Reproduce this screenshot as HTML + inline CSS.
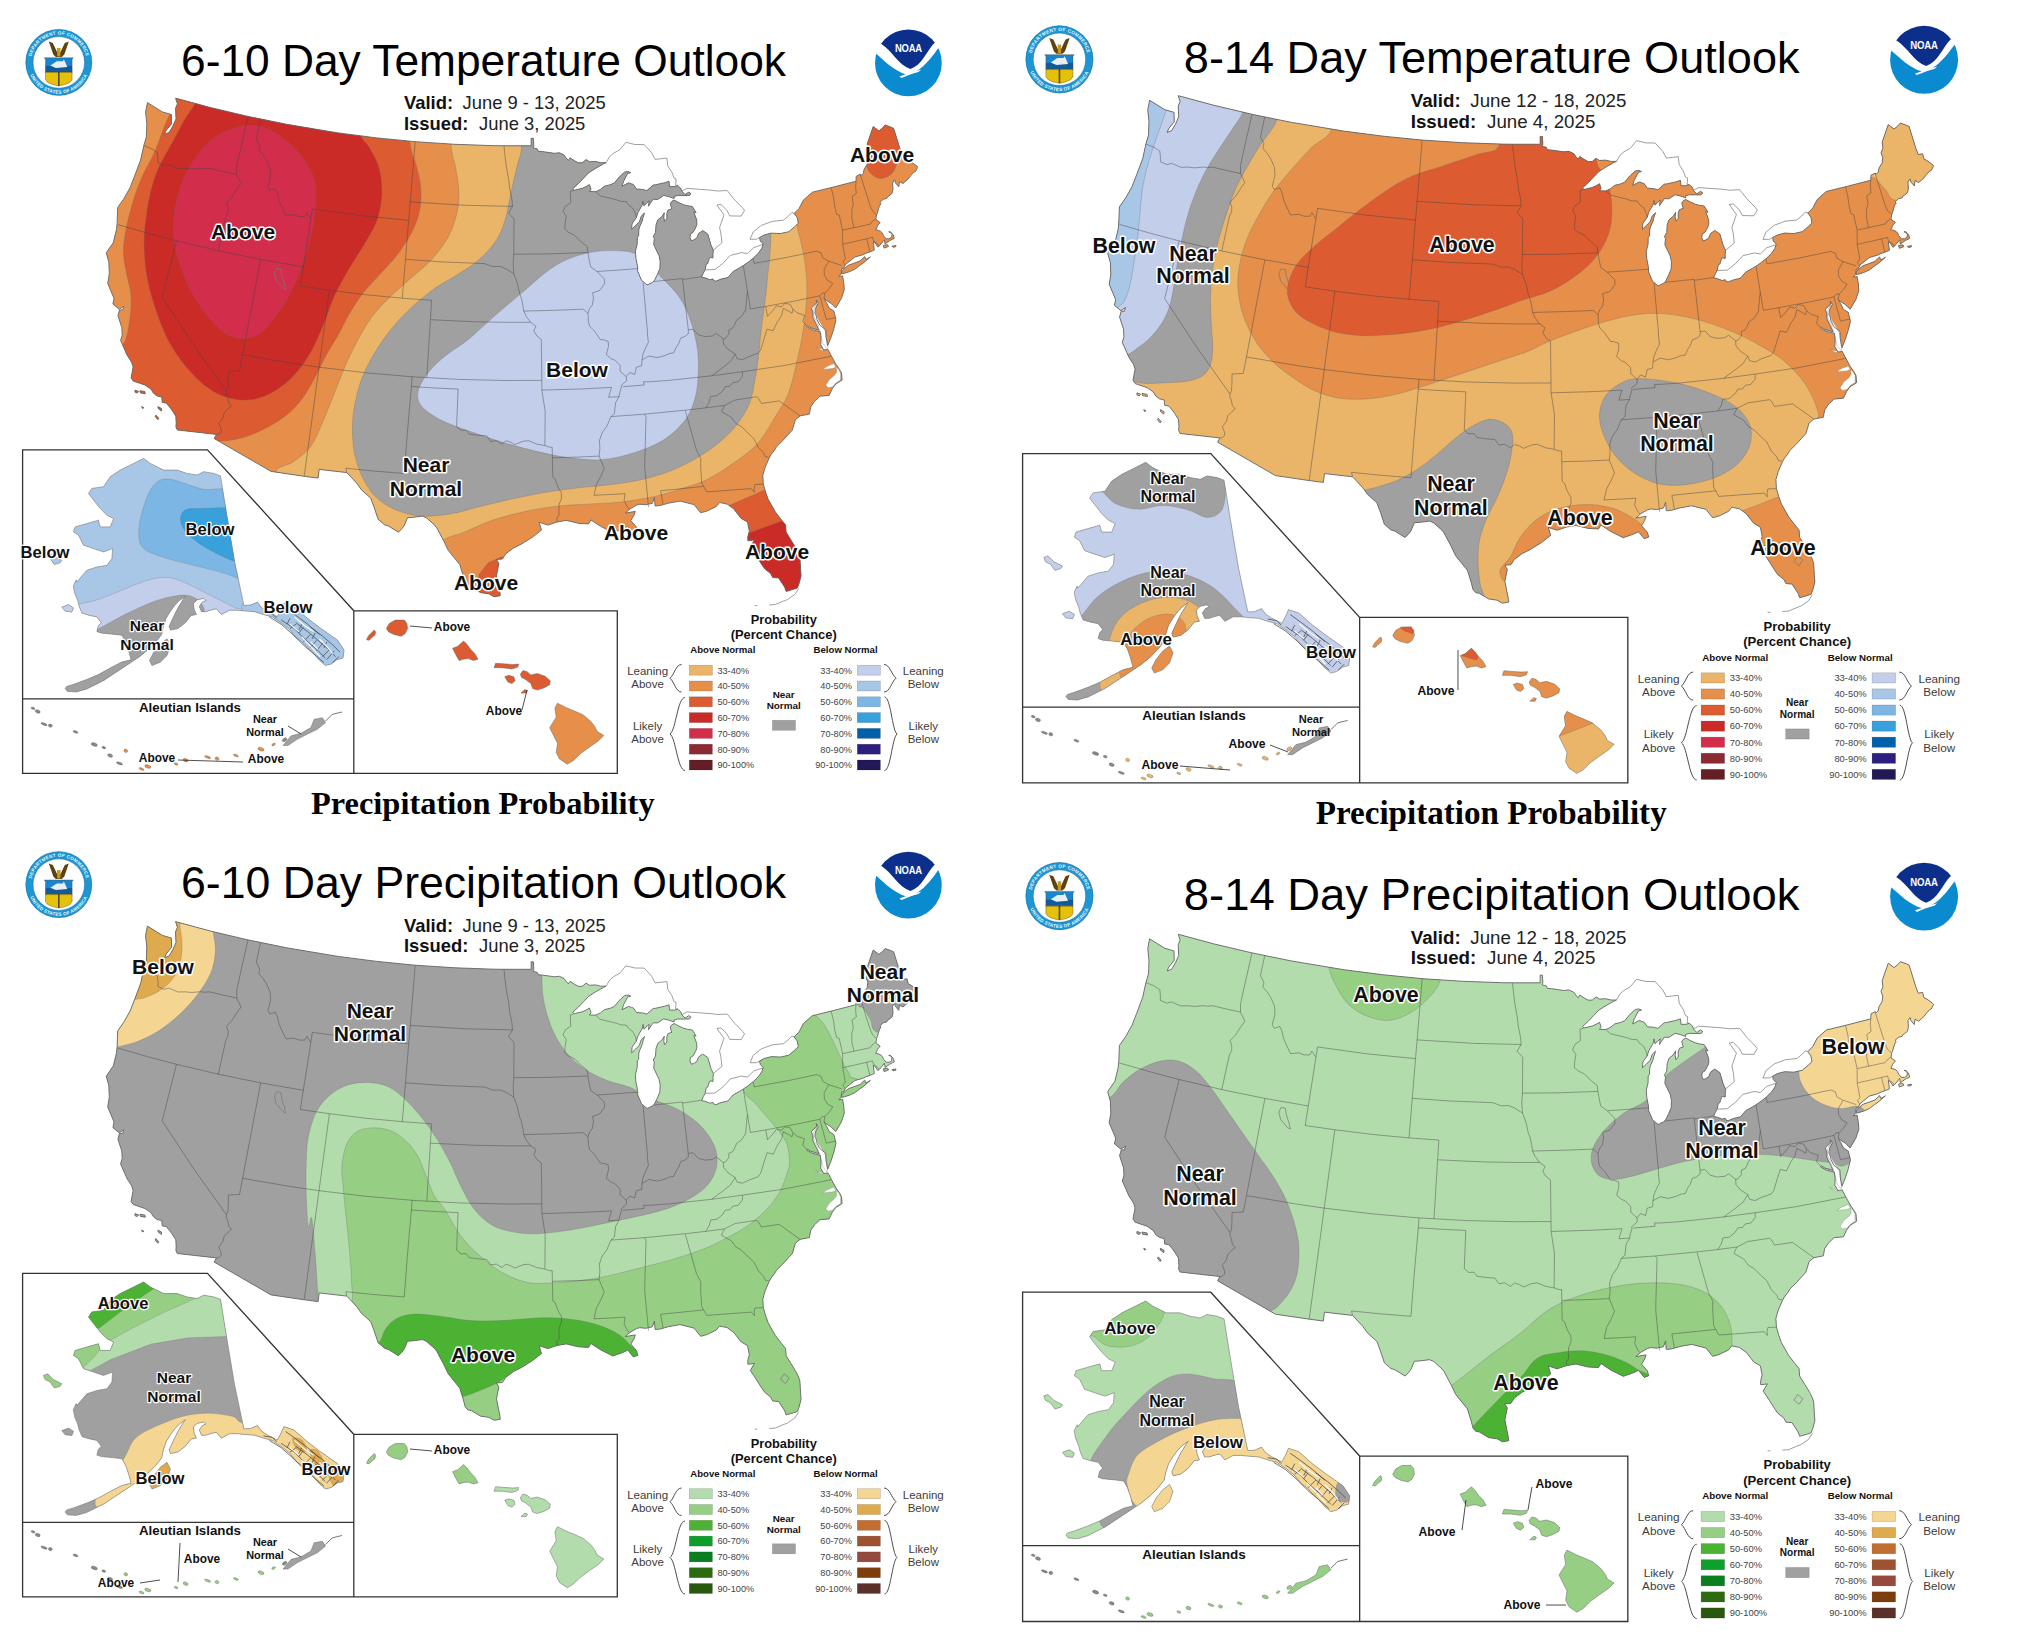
<!DOCTYPE html><html><head><meta charset="utf-8"><title>CPC Outlooks</title><style>html,body{margin:0;padding:0;background:#fff}svg{display:block}text{font-family:'Liberation Sans',Arial,Helvetica,sans-serif}</style></head><body><svg width="2035" height="1634" viewBox="0 0 2035 1634" style="font-family:'Liberation Sans',Arial,Helvetica,sans-serif"><defs><clipPath id="us"><path d="M175.5,98.1L210.3,107.5L248.0,116.4L286.7,124.3L338.1,132.9L376.9,137.9L415.2,141.7L454.9,144.3L494.0,145.7L504.0,145.8L531.2,145.8L531.1,138.3L533.4,138.3L533.8,145.8L533.1,147.8L535.1,148.4L537.1,148.8L538.4,151.3L542.4,151.6L548.9,152.5L554.2,153.3L559.4,152.8L564.1,155.0L566.2,157.9L568.3,160.4L570.1,157.8L574.2,160.6L578.3,162.8L582.3,162.8L586.1,159.6L589.5,161.8L595.4,161.4L600.8,162.7L606.1,162.7L603.8,163.7L595.5,168.4L588.8,172.7L583.6,178.1L578.3,183.7L572.8,188.7L574.2,190.2L582.3,188.3L586.2,186.5L589.4,184.6L590.5,187.3L591.0,189.4L589.4,191.5L595.7,191.7L600.5,189.4L604.4,186.2L610.1,184.8L614.3,183.0L619.2,177.0L624.7,172.0L628.4,171.5L630.7,172.7L627.7,173.4L623.6,181.2L622.0,186.3L628.5,182.8L631.5,183.9L633.3,184.4L636.5,189.0L642.6,189.4L646.8,190.6L653.2,185.0L655.4,184.8L664.4,182.8L669.0,181.3L669.6,186.6L674.4,186.6L677.7,185.6L680.7,188.2L681.8,191.1L685.0,194.6L688.8,192.1L691.1,193.8L689.2,195.5L685.1,195.6L677.8,195.5L674.2,196.4L674.1,198.5L668.7,196.6L663.7,195.4L657.7,199.4L653.2,199.3L650.2,203.5L648.4,206.3L649.2,200.7L643.9,205.7L643.0,200.9L642.5,204.5L637.9,212.6L636.3,217.7L633.2,221.9L632.0,224.0L631.7,229.3L635.6,225.6L639.4,221.7L641.1,216.6L643.2,214.1L644.5,213.0L643.0,217.7L642.2,221.1L639.5,227.2L638.8,230.0L638.6,236.1L637.3,237.2L637.2,244.1L635.4,251.3L635.9,258.2L637.6,267.0L637.7,271.3L641.6,280.4L647.1,285.0L652.3,282.5L654.3,280.8L657.4,274.4L659.9,268.4L660.1,261.2L659.0,255.6L657.4,252.4L653.7,244.5L654.3,238.6L653.3,236.5L655.5,232.6L656.0,225.0L657.8,219.9L661.8,216.7L664.3,212.7L663.8,217.1L664.5,221.4L666.9,218.5L666.8,213.6L668.0,210.1L672.0,208.7L671.3,207.6L670.3,203.5L672.0,201.2L674.2,200.1L678.0,202.2L683.5,204.7L687.5,205.8L692.3,206.5L696.1,212.6L693.8,212.1L696.7,219.8L696.9,224.3L695.6,227.9L692.9,232.6L690.4,233.9L690.0,237.5L691.3,240.7L693.6,240.0L696.9,237.9L697.7,235.5L698.8,233.3L702.3,230.9L702.7,230.5L707.8,234.1L711.0,245.1L713.3,250.1L713.0,254.1L713.0,258.0L710.0,257.4L709.3,258.5L708.3,261.6L707.8,263.5L706.2,264.3L705.1,269.9L703.3,273.1L702.0,276.2L701.8,277.2L705.1,277.8L709.9,279.7L713.0,278.9L713.6,280.5L715.9,281.2L721.0,279.1L727.9,277.5L733.1,271.5L739.6,267.8L743.3,265.6L748.8,261.7L753.2,258.2L758.6,252.9L761.8,248.2L763.2,243.9L760.2,240.9L759.6,237.5L764.2,235.0L771.4,233.1L780.2,233.6L788.8,231.7L794.6,226.7L798.3,223.2L797.1,217.4L794.1,213.4L799.1,208.4L803.4,200.1L812.3,192.2L831.2,187.6L856.0,181.2L856.2,176.3L860.2,174.2L861.5,175.1L863.2,173.4L864.2,169.1L867.2,164.2L867.8,158.9L866.1,154.3L868.0,149.7L867.2,143.8L873.2,126.5L878.9,130.8L882.4,128.1L885.1,125.0L891.4,127.3L893.7,128.4L900.3,149.7L902.7,156.0L907.0,155.2L908.3,160.4L911.2,161.8L916.9,166.0L917.7,167.3L915.4,171.5L913.5,172.5L910.8,175.6L908.2,178.9L905.9,181.0L903.0,183.5L899.5,181.5L898.8,186.8L895.5,183.0L894.6,179.9L892.6,182.9L893.0,189.5L892.0,193.5L889.0,195.9L887.5,196.8L886.8,198.4L883.4,199.3L880.0,202.1L880.9,203.7L879.4,206.1L878.6,208.8L877.3,213.2L876.5,215.0L876.0,218.6L876.4,220.1L879.2,221.8L880.2,222.5L877.4,225.9L876.7,227.9L875.7,229.8L877.8,230.2L880.8,231.4L882.3,233.0L883.5,235.7L886.1,238.7L889.1,238.8L891.7,237.1L892.0,234.4L890.3,232.3L888.7,231.9L890.5,231.8L893.3,235.0L894.3,238.4L889.9,240.5L885.0,244.0L884.5,239.7L879.4,245.9L877.8,247.1L875.2,243.0L873.3,241.5L874.3,250.1L869.2,252.2L866.0,253.2L862.5,254.9L854.7,257.1L851.1,260.0L845.5,264.5L843.5,268.6L841.9,268.4L841.3,271.5L841.3,273.5L838.9,276.4L842.6,275.8L843.8,282.9L844.3,289.7L841.4,298.4L835.7,308.0L831.3,303.6L826.8,300.7L824.0,298.3L826.5,302.7L829.2,308.1L833.9,311.0L836.0,319.9L833.8,328.9L831.0,337.5L827.7,345.7L826.0,336.6L825.7,329.7L819.7,325.0L817.0,319.6L816.2,315.8L814.9,313.1L815.5,308.5L818.2,303.1L816.3,300.0L816.6,302.9L811.5,307.9L812.7,312.2L813.0,317.5L816.5,324.7L818.9,330.1L810.9,327.8L807.4,325.6L806.8,326.7L812.1,329.6L820.3,331.8L821.0,338.6L820.7,344.6L823.2,349.1L823.4,350.0L828.0,349.4L828.8,350.9L831.5,356.2L835.9,364.2L839.5,369.4L841.5,372.9L842.1,380.1L835.7,384.1L832.3,388.8L829.1,395.4L820.0,396.2L814.5,401.3L810.7,407.0L809.4,414.1L800.1,415.9L795.4,419.7L792.3,430.1L787.9,434.9L782.7,440.7L776.6,446.6L774.7,449.9L771.2,454.4L769.3,457.7L765.2,467.2L762.8,475.4L763.3,484.0L765.5,491.8L768.2,499.3L775.4,512.0L781.5,519.9L785.6,525.0L786.1,532.1L791.1,540.2L796.0,548.3L798.3,552.9L799.9,557.6L800.6,569.5L801.1,576.0L799.0,583.8L797.4,588.0L789.1,590.6L786.1,591.4L784.6,587.1L778.6,578.0L772.7,577.5L770.6,573.5L764.7,568.8L761.2,563.7L756.6,556.4L753.9,552.3L750.3,547.0L754.4,539.9L747.9,540.8L747.8,536.9L749.3,531.1L747.5,522.1L741.1,518.4L733.6,508.8L727.1,504.1L719.5,502.5L716.3,506.5L706.9,511.1L700.7,512.8L694.0,504.6L680.0,501.1L668.4,503.2L663.5,504.6L660.2,505.5L655.1,506.0L654.4,497.6L652.4,503.3L645.8,504.8L639.8,504.2L636.5,505.1L630.0,508.9L625.2,513.1L635.3,511.4L633.9,515.4L630.8,520.6L636.4,527.0L637.9,531.8L633.4,533.5L627.8,526.6L622.9,528.9L612.8,532.5L607.5,529.8L600.5,526.3L590.9,519.9L588.5,523.9L578.3,523.3L566.3,520.4L557.0,522.0L547.8,525.1L539.2,522.3L541.5,530.1L532.6,537.1L521.5,544.0L513.7,547.9L505.9,553.7L502.4,559.0L496.4,559.5L498.9,563.5L496.5,575.2L500.0,593.0L500.3,595.7L494.1,596.8L488.8,593.8L480.7,592.7L471.3,587.1L467.8,586.4L465.2,583.4L463.4,576.4L459.7,564.5L448.2,550.3L443.4,540.3L436.7,527.7L434.7,525.2L426.6,517.9L422.5,516.1L414.0,517.2L407.5,517.7L404.4,525.3L402.1,528.5L398.4,532.2L388.3,525.9L384.5,524.8L378.1,519.2L374.2,507.5L370.7,498.1L361.4,489.8L357.0,483.5L347.4,473.1L346.8,472.6L319.2,469.4L318.1,478.1L304.2,476.3L271.0,471.4L214.1,438.5L216.5,434.4L177.3,430.0L175.9,426.9L176.2,423.4L175.8,416.3L172.0,410.3L169.5,406.9L166.2,403.1L162.2,402.4L161.8,397.1L157.1,396.0L153.5,393.3L150.9,389.1L144.9,385.0L133.2,381.0L131.1,377.9L133.1,367.0L131.6,362.2L127.2,355.4L120.6,340.5L122.2,334.9L121.8,327.6L117.9,315.6L119.5,310.0L122.7,309.9L123.7,306.2L119.3,309.4L112.9,304.1L114.0,298.4L107.7,283.4L109.3,273.8L108.8,261.9L106.2,252.8L113.3,242.5L116.5,229.3L117.1,223.3L117.7,207.4L123.7,198.9L130.1,187.5L134.6,176.0L140.6,160.0L143.8,145.5L146.3,137.0L146.5,131.9L146.8,123.8L145.6,112.1L147.4,102.6L162.4,111.9L171.4,114.5L171.6,123.8L166.1,130.5L164.7,134.2L169.1,132.4L172.8,126.2L176.0,118.9L175.5,108.4L177.4,103.8ZM841.7,273.8L842.9,273.7L849.2,271.8L854.7,269.3L859.8,265.4L863.7,262.7L870.4,256.9L865.9,259.5L864.7,256.6L860.2,260.9L853.7,263.3L848.4,265.2L844.6,268.3L843.4,269.4L841.6,271.4ZM139.9,390.7L144.9,391.6L145.3,393.7L140.5,392.9ZM135.0,390.1L138.7,391.5L137.1,393.1L134.9,392.1ZM157.9,406.6L161.6,408.6L161.4,411.0L158.2,408.6ZM155.9,415.1L158.8,418.4L157.8,419.7L155.2,416.5ZM141.6,406.6L143.9,407.8L142.4,408.4ZM883.3,245.3L887.7,244.7L888.5,246.5L884.1,248.1ZM891.9,246.2L895.9,245.4L895.8,246.7L893.0,247.3Z"/></clipPath><clipPath id="ak"><path d="M220.5,475.9L226.3,511.8L234.7,562.0L243.9,605.4L250.2,605.1L257.5,602.1L261.2,607.3L267.3,611.5L277.3,616.6L281.1,609.5L283.9,603.1L294.0,606.5L307.4,618.3L320.8,628.4L337.4,640.0L344.1,650.0L343.0,658.1L337.1,659.6L331.3,664.0L325.4,665.5L319.5,660.3L313.6,653.7L307.7,647.8L301.8,641.9L295.9,637.5L290.0,630.1L281.1,622.8L272.3,616.9L263.4,614.6L254.6,611.7L245.7,611.0L236.9,610.2L229.5,610.2L221.4,614.6L216.3,608.7L210.4,610.2L205.9,611.7L201.5,611.7L199.3,606.5L202.3,602.1L205.9,600.6L203.7,598.4L197.1,599.9L193.4,603.6L194.2,609.5L196.4,614.6L191.2,615.4L185.3,622.8L177.9,628.6L170.6,630.1L169.1,626.4L173.5,616.9L177.9,608.0L182.4,600.6L185.3,596.2L179.4,600.6L175.0,605.1L170.6,611.0L166.1,618.3L163.2,627.2L161.7,634.5L155.8,641.9L148.5,649.3L139.6,656.7L130.8,662.6L121.9,668.5L113.1,674.3L104.2,680.2L95.4,684.7L86.5,689.1L76.2,692.0L67.4,691.3L65.2,688.4L66.8,686.4L73.4,684.4L86.8,679.5L98.5,674.5L110.3,667.9L121.9,662.0L131.1,659.8L128.6,650.5L125.6,641.9L121.9,635.3L116.0,634.5L108.6,633.8L101.3,633.1L96.9,631.6L98.3,625.7L101.3,622.8L96.9,616.9L89.5,615.4L82.1,613.2L79.2,606.5L77.7,600.6L74.7,593.3L73.3,585.9L76.2,580.0L76.8,582.0L86.8,570.3L96.9,567.0L106.9,565.3L111.9,558.6L112.7,548.6L103.5,551.9L93.5,548.6L83.5,545.2L78.5,535.2L73.5,531.9L75.1,526.9L86.8,523.5L98.5,520.2L100.2,526.9L110.2,526.9L113.6,518.5L106.9,515.2L100.2,508.5L93.5,500.1L88.5,493.5L91.8,488.4L103.5,486.8L110.2,476.7L120.2,470.1L133.6,463.4L143.6,458.4L150.3,463.4L163.7,470.1L177.1,470.1L187.1,473.4L197.1,475.1L203.8,471.7L213.8,473.4Z"/></clipPath><path id="usout" d="M175.5,98.1L210.3,107.5L248.0,116.4L286.7,124.3L338.1,132.9L376.9,137.9L415.2,141.7L454.9,144.3L494.0,145.7L504.0,145.8L531.2,145.8L531.1,138.3L533.4,138.3L533.8,145.8L533.1,147.8L535.1,148.4L537.1,148.8L538.4,151.3L542.4,151.6L548.9,152.5L554.2,153.3L559.4,152.8L564.1,155.0L566.2,157.9L568.3,160.4L570.1,157.8L574.2,160.6L578.3,162.8L582.3,162.8L586.1,159.6L589.5,161.8L595.4,161.4L600.8,162.7L606.1,162.7L603.8,163.7L595.5,168.4L588.8,172.7L583.6,178.1L578.3,183.7L572.8,188.7L574.2,190.2L582.3,188.3L586.2,186.5L589.4,184.6L590.5,187.3L591.0,189.4L589.4,191.5L595.7,191.7L600.5,189.4L604.4,186.2L610.1,184.8L614.3,183.0L619.2,177.0L624.7,172.0L628.4,171.5L630.7,172.7L627.7,173.4L623.6,181.2L622.0,186.3L628.5,182.8L631.5,183.9L633.3,184.4L636.5,189.0L642.6,189.4L646.8,190.6L653.2,185.0L655.4,184.8L664.4,182.8L669.0,181.3L669.6,186.6L674.4,186.6L677.7,185.6L680.7,188.2L681.8,191.1L685.0,194.6L688.8,192.1L691.1,193.8L689.2,195.5L685.1,195.6L677.8,195.5L674.2,196.4L674.1,198.5L668.7,196.6L663.7,195.4L657.7,199.4L653.2,199.3L650.2,203.5L648.4,206.3L649.2,200.7L643.9,205.7L643.0,200.9L642.5,204.5L637.9,212.6L636.3,217.7L633.2,221.9L632.0,224.0L631.7,229.3L635.6,225.6L639.4,221.7L641.1,216.6L643.2,214.1L644.5,213.0L643.0,217.7L642.2,221.1L639.5,227.2L638.8,230.0L638.6,236.1L637.3,237.2L637.2,244.1L635.4,251.3L635.9,258.2L637.6,267.0L637.7,271.3L641.6,280.4L647.1,285.0L652.3,282.5L654.3,280.8L657.4,274.4L659.9,268.4L660.1,261.2L659.0,255.6L657.4,252.4L653.7,244.5L654.3,238.6L653.3,236.5L655.5,232.6L656.0,225.0L657.8,219.9L661.8,216.7L664.3,212.7L663.8,217.1L664.5,221.4L666.9,218.5L666.8,213.6L668.0,210.1L672.0,208.7L671.3,207.6L670.3,203.5L672.0,201.2L674.2,200.1L678.0,202.2L683.5,204.7L687.5,205.8L692.3,206.5L696.1,212.6L693.8,212.1L696.7,219.8L696.9,224.3L695.6,227.9L692.9,232.6L690.4,233.9L690.0,237.5L691.3,240.7L693.6,240.0L696.9,237.9L697.7,235.5L698.8,233.3L702.3,230.9L702.7,230.5L707.8,234.1L711.0,245.1L713.3,250.1L713.0,254.1L713.0,258.0L710.0,257.4L709.3,258.5L708.3,261.6L707.8,263.5L706.2,264.3L705.1,269.9L703.3,273.1L702.0,276.2L701.8,277.2L705.1,277.8L709.9,279.7L713.0,278.9L713.6,280.5L715.9,281.2L721.0,279.1L727.9,277.5L733.1,271.5L739.6,267.8L743.3,265.6L748.8,261.7L753.2,258.2L758.6,252.9L761.8,248.2L763.2,243.9L760.2,240.9L759.6,237.5L764.2,235.0L771.4,233.1L780.2,233.6L788.8,231.7L794.6,226.7L798.3,223.2L797.1,217.4L794.1,213.4L799.1,208.4L803.4,200.1L812.3,192.2L831.2,187.6L856.0,181.2L856.2,176.3L860.2,174.2L861.5,175.1L863.2,173.4L864.2,169.1L867.2,164.2L867.8,158.9L866.1,154.3L868.0,149.7L867.2,143.8L873.2,126.5L878.9,130.8L882.4,128.1L885.1,125.0L891.4,127.3L893.7,128.4L900.3,149.7L902.7,156.0L907.0,155.2L908.3,160.4L911.2,161.8L916.9,166.0L917.7,167.3L915.4,171.5L913.5,172.5L910.8,175.6L908.2,178.9L905.9,181.0L903.0,183.5L899.5,181.5L898.8,186.8L895.5,183.0L894.6,179.9L892.6,182.9L893.0,189.5L892.0,193.5L889.0,195.9L887.5,196.8L886.8,198.4L883.4,199.3L880.0,202.1L880.9,203.7L879.4,206.1L878.6,208.8L877.3,213.2L876.5,215.0L876.0,218.6L876.4,220.1L879.2,221.8L880.2,222.5L877.4,225.9L876.7,227.9L875.7,229.8L877.8,230.2L880.8,231.4L882.3,233.0L883.5,235.7L886.1,238.7L889.1,238.8L891.7,237.1L892.0,234.4L890.3,232.3L888.7,231.9L890.5,231.8L893.3,235.0L894.3,238.4L889.9,240.5L885.0,244.0L884.5,239.7L879.4,245.9L877.8,247.1L875.2,243.0L873.3,241.5L874.3,250.1L869.2,252.2L866.0,253.2L862.5,254.9L854.7,257.1L851.1,260.0L845.5,264.5L843.5,268.6L841.9,268.4L841.3,271.5L841.3,273.5L838.9,276.4L842.6,275.8L843.8,282.9L844.3,289.7L841.4,298.4L835.7,308.0L831.3,303.6L826.8,300.7L824.0,298.3L826.5,302.7L829.2,308.1L833.9,311.0L836.0,319.9L833.8,328.9L831.0,337.5L827.7,345.7L826.0,336.6L825.7,329.7L819.7,325.0L817.0,319.6L816.2,315.8L814.9,313.1L815.5,308.5L818.2,303.1L816.3,300.0L816.6,302.9L811.5,307.9L812.7,312.2L813.0,317.5L816.5,324.7L818.9,330.1L810.9,327.8L807.4,325.6L806.8,326.7L812.1,329.6L820.3,331.8L821.0,338.6L820.7,344.6L823.2,349.1L823.4,350.0L828.0,349.4L828.8,350.9L831.5,356.2L835.9,364.2L839.5,369.4L841.5,372.9L842.1,380.1L835.7,384.1L832.3,388.8L829.1,395.4L820.0,396.2L814.5,401.3L810.7,407.0L809.4,414.1L800.1,415.9L795.4,419.7L792.3,430.1L787.9,434.9L782.7,440.7L776.6,446.6L774.7,449.9L771.2,454.4L769.3,457.7L765.2,467.2L762.8,475.4L763.3,484.0L765.5,491.8L768.2,499.3L775.4,512.0L781.5,519.9L785.6,525.0L786.1,532.1L791.1,540.2L796.0,548.3L798.3,552.9L799.9,557.6L800.6,569.5L801.1,576.0L799.0,583.8L797.4,588.0L789.1,590.6L786.1,591.4L784.6,587.1L778.6,578.0L772.7,577.5L770.6,573.5L764.7,568.8L761.2,563.7L756.6,556.4L753.9,552.3L750.3,547.0L754.4,539.9L747.9,540.8L747.8,536.9L749.3,531.1L747.5,522.1L741.1,518.4L733.6,508.8L727.1,504.1L719.5,502.5L716.3,506.5L706.9,511.1L700.7,512.8L694.0,504.6L680.0,501.1L668.4,503.2L663.5,504.6L660.2,505.5L655.1,506.0L654.4,497.6L652.4,503.3L645.8,504.8L639.8,504.2L636.5,505.1L630.0,508.9L625.2,513.1L635.3,511.4L633.9,515.4L630.8,520.6L636.4,527.0L637.9,531.8L633.4,533.5L627.8,526.6L622.9,528.9L612.8,532.5L607.5,529.8L600.5,526.3L590.9,519.9L588.5,523.9L578.3,523.3L566.3,520.4L557.0,522.0L547.8,525.1L539.2,522.3L541.5,530.1L532.6,537.1L521.5,544.0L513.7,547.9L505.9,553.7L502.4,559.0L496.4,559.5L498.9,563.5L496.5,575.2L500.0,593.0L500.3,595.7L494.1,596.8L488.8,593.8L480.7,592.7L471.3,587.1L467.8,586.4L465.2,583.4L463.4,576.4L459.7,564.5L448.2,550.3L443.4,540.3L436.7,527.7L434.7,525.2L426.6,517.9L422.5,516.1L414.0,517.2L407.5,517.7L404.4,525.3L402.1,528.5L398.4,532.2L388.3,525.9L384.5,524.8L378.1,519.2L374.2,507.5L370.7,498.1L361.4,489.8L357.0,483.5L347.4,473.1L346.8,472.6L319.2,469.4L318.1,478.1L304.2,476.3L271.0,471.4L214.1,438.5L216.5,434.4L177.3,430.0L175.9,426.9L176.2,423.4L175.8,416.3L172.0,410.3L169.5,406.9L166.2,403.1L162.2,402.4L161.8,397.1L157.1,396.0L153.5,393.3L150.9,389.1L144.9,385.0L133.2,381.0L131.1,377.9L133.1,367.0L131.6,362.2L127.2,355.4L120.6,340.5L122.2,334.9L121.8,327.6L117.9,315.6L119.5,310.0L122.7,309.9L123.7,306.2L119.3,309.4L112.9,304.1L114.0,298.4L107.7,283.4L109.3,273.8L108.8,261.9L106.2,252.8L113.3,242.5L116.5,229.3L117.1,223.3L117.7,207.4L123.7,198.9L130.1,187.5L134.6,176.0L140.6,160.0L143.8,145.5L146.3,137.0L146.5,131.9L146.8,123.8L145.6,112.1L147.4,102.6L162.4,111.9L171.4,114.5L171.6,123.8L166.1,130.5L164.7,134.2L169.1,132.4L172.8,126.2L176.0,118.9L175.5,108.4L177.4,103.8ZM841.7,273.8L842.9,273.7L849.2,271.8L854.7,269.3L859.8,265.4L863.7,262.7L870.4,256.9L865.9,259.5L864.7,256.6L860.2,260.9L853.7,263.3L848.4,265.2L844.6,268.3L843.4,269.4L841.6,271.4ZM139.9,390.7L144.9,391.6L145.3,393.7L140.5,392.9ZM135.0,390.1L138.7,391.5L137.1,393.1L134.9,392.1ZM157.9,406.6L161.6,408.6L161.4,411.0L158.2,408.6ZM155.9,415.1L158.8,418.4L157.8,419.7L155.2,416.5ZM141.6,406.6L143.9,407.8L142.4,408.4ZM883.3,245.3L887.7,244.7L888.5,246.5L884.1,248.1ZM891.9,246.2L895.9,245.4L895.8,246.7L893.0,247.3Z"/><path id="usbord" d="M143.8,145.5L152.0,149.0L157.4,152.6L158.0,157.9L158.0,163.0L164.3,165.8L168.9,164.6L178.1,168.5L185.0,168.3L191.9,169.0L200.5,168.2L204.6,168.8L209.2,168.3L222.3,171.4L236.7,174.6M248.0,116.4L241.4,145.4L236.8,166.2L236.7,174.6L241.0,183.6L236.5,189.7L232.1,196.8L226.5,202.6L228.2,207.9L228.0,212.3L225.9,216.4L218.3,250.7M117.8,224.6L148.5,233.4L176.5,240.8L218.3,250.7L260.7,259.4L303.3,266.8M176.5,240.8L169.3,269.1L162.2,297.4L193.3,344.7L226.4,391.2M242.6,354.8L239.5,371.0L228.4,371.5L228.3,379.7L227.9,388.2L226.4,391.2L226.3,394.2L227.7,397.0L228.7,402.5L231.5,406.0L228.4,408.4L224.3,412.6L222.8,418.2L218.9,423.4L221.1,429.1L221.1,432.1L218.1,434.5L216.5,434.4M260.7,259.4L251.6,307.2L242.6,354.8M242.6,354.8L289.1,362.8L319.0,367.2L365.9,372.8L412.1,376.8L458.5,379.4L504.9,380.5L541.8,380.4M260.5,119.1L256.3,138.9L259.7,145.3L258.7,150.1L263.2,155.1L266.8,160.8L270.1,168.5L270.6,176.6L267.9,187.1L270.0,190.5L275.4,188.7L277.3,192.9L279.3,201.2L282.3,207.8L285.9,215.4L293.9,214.6L299.2,216.6L304.8,216.6L306.8,212.9L310.8,218.9M312.4,208.8L361.1,215.6L408.7,220.3M312.4,208.8L307.9,237.9L303.3,266.8L300.3,286.0M300.3,286.0L329.4,290.2L366.5,294.8L402.3,298.2L431.6,300.3M415.2,141.7L412.0,181.1L408.7,220.3L405.5,259.3L402.3,298.2M329.4,290.2L324.2,328.7L319.0,367.2L311.2,424.9L304.2,476.3M431.6,300.3L430.4,319.7L428.6,348.7L426.8,377.8M411.4,386.5L412.1,376.8M411.4,386.5L407.2,434.8L404.2,473.5L372.3,470.9L345.8,468.2L346.8,472.6M411.4,386.5L434.8,388.0L458.1,389.1L457.3,408.5L456.6,426.7L461.2,430.4L466.1,430.1L469.1,434.1L478.7,435.4L486.7,435.9L490.7,441.5L496.3,440.6L501.9,444.1L506.0,440.7L510.8,442.3L514.8,444.6L522.9,441.3L528.5,440.7L536.6,444.1L544.9,445.6L549.6,447.2L552.2,447.2L552.4,457.8L552.8,477.3L555.2,479.2L557.9,486.9L561.3,492.6L561.5,498.5L559.1,504.4L558.9,510.3L559.1,515.1L556.9,518.1L557.0,522.0M541.9,390.1L545.2,411.4L544.9,445.6M430.4,319.7L475.7,321.8L505.4,322.3L530.6,322.3L536.0,326.2L533.8,331.1L536.8,335.9L541.3,339.5L541.6,361.0L541.8,380.4L541.9,390.1M405.5,259.3L441.8,261.9L484.6,263.6L493.1,266.7L500.2,266.4L505.9,268.8L513.8,273.7L517.4,283.5L519.5,293.2L521.3,297.9L522.8,304.9L523.7,311.1L526.2,316.5L530.6,322.3M513.8,273.7L513.1,264.0L513.8,254.2M513.8,254.2L548.6,253.9L587.9,252.5M410.2,201.9L465.5,205.3L512.5,206.4M504.0,145.8L505.0,155.8L506.4,167.1L508.7,179.6L509.6,187.9L512.0,199.9L512.5,206.4L508.5,213.1L514.0,219.0L513.9,234.7L513.8,254.2M573.9,190.3L570.3,191.4L570.7,202.6L565.3,206.4L563.0,211.4L566.3,216.2L565.2,222.1L564.7,229.0L568.6,232.4L574.7,235.4L581.3,242.0L587.2,246.6L587.9,252.5L589.4,261.2L590.8,267.0L597.1,271.5L604.4,278.9L604.6,283.7L599.6,290.5L592.5,292.8L593.5,298.0L592.4,304.9L589.6,308.4L588.0,313.3L588.5,322.0L589.7,326.4L594.5,331.1L600.2,339.5L604.0,339.9L608.2,341.4L608.5,346.2L606.4,354.7L611.2,358.7L614.7,360.0L620.1,365.5L620.2,371.3L626.3,376.7L626.6,380.6L620.8,385.8L621.6,386.7L620.3,390.7L619.7,392.7L619.1,396.6L615.6,402.7L614.4,413.5L610.9,416.6L607.0,426.0L602.2,432.6L599.4,440.6L599.9,448.3L599.1,456.1L604.2,468.5L601.3,475.5L596.4,484.5L594.0,495.3L612.3,494.4L625.1,493.6L624.1,500.5L627.4,507.1L629.5,509.3M523.7,311.1L557.2,310.2L583.3,309.2L588.0,313.3M541.9,390.1L582.7,388.9L611.5,387.4L608.6,397.3L619.1,396.6M552.4,457.8L577.5,457.1L599.1,456.1M597.1,271.5L620.7,269.9L637.9,268.6M636.3,217.7L635.2,212.8L632.7,208.1L628.2,204.6L626.6,201.7L620.4,201.3L616.2,199.6L614.1,199.2L600.2,195.8L595.7,191.7M643.1,282.6L645.3,307.0L647.3,329.3L647.6,336.0L648.4,342.2L645.6,347.9L643.0,354.0L642.0,359.9M747.5,291.3L746.8,296.2L746.3,302.7L745.6,310.1L741.4,316.7L736.6,320.0L734.1,325.7L732.5,328.3L728.9,329.8L728.8,334.3L725.5,338.3L723.3,339.0L716.4,333.5L712.2,336.0L705.1,336.6L698.3,334.9L693.1,329.3L688.3,329.9L688.3,333.8L684.8,336.5L680.7,338.0L678.7,343.7L676.1,347.5L673.6,353.0L669.8,353.4L663.9,355.9L657.2,357.6L649.0,356.0L642.0,359.9L641.7,365.8L636.4,367.2L634.7,374.5L629.9,372.5L626.3,376.7M653.3,281.6L682.5,278.5L682.6,279.6L685.2,302.8L688.3,329.9M682.6,279.6L702.0,276.6M743.3,265.6L747.5,291.3L750.4,309.0L765.7,306.4L794.8,301.0L819.8,295.8L822.1,293.1L824.9,293.1M819.8,295.8L826.3,319.6L836.0,317.5M765.7,306.4L767.5,316.3L773.0,310.4L776.4,305.8L781.5,306.9L784.9,303.3L790.1,304.3L792.9,309.3L797.1,312.8L804.5,315.3L802.7,321.6L806.6,325.7M792.9,309.3L792.1,313.2L788.7,311.2L783.3,308.3L781.6,315.7L777.7,321.4L773.1,330.7L767.1,329.2L764.1,338.6L760.6,350.0L758.0,353.3L747.7,357.0L742.6,359.7L737.0,358.6L735.2,354.1M735.2,354.1L727.8,349.1L723.5,343.9L723.3,339.0M735.2,354.1L730.4,361.5L721.3,368.7L711.6,375.8M742.4,371.7L711.6,375.8L667.9,380.5L647.0,381.9L643.5,381.6L644.1,385.0L622.8,386.7M742.4,371.7L783.7,365.6L831.5,356.2M742.4,371.7L742.5,376.4L738.1,381.9L732.7,382.7L730.0,386.1L725.3,386.7L722.7,391.0L717.0,395.7L710.7,396.5L709.1,402.5L705.5,408.1M724.5,405.4L705.5,407.9L685.3,410.2L644.2,414.2L610.9,416.6M724.5,405.4L735.2,400.0L756.5,396.8L758.5,398.4L761.4,403.5L779.2,400.9L800.1,415.9M724.5,405.4L721.5,411.7L731.2,417.2L735.8,423.4L741.4,426.6L747.1,432.2L753.8,438.5L758.5,447.6L763.5,452.7L765.3,456.7L768.8,457.2M685.3,410.6L696.6,450.6L700.8,458.3L700.7,467.1L701.2,474.9L701.6,482.7L703.7,486.4L706.7,491.9L751.3,488.6L754.4,492.3L754.1,488.2L754.9,484.5L763.3,484.2M703.7,486.4L660.6,490.8L663.1,504.7M644.2,414.2L646.0,416.4L644.7,466.8L648.5,507.1M753.2,258.2L754.1,263.4L786.3,257.5L816.7,251.1L821.3,253.1L822.7,257.8L828.8,261.2L824.1,269.4L824.4,275.5L827.7,280.6L832.8,283.4L829.4,288.2L828.5,289.4L824.9,293.1L824.0,298.3M828.8,261.2L841.7,265.4M831.1,187.4L833.5,197.2L834.8,206.9L836.6,214.1L839.2,214.9L842.6,230.1L842.7,244.2L845.3,258.6L843.2,261.1L843.6,263.0L845.2,265.0M856.0,181.2L855.6,186.6L856.3,193.5L852.1,196.6L853.3,204.3L851.8,209.8L851.9,218.8L854.0,227.7M842.6,230.1L854.0,227.7L870.2,224.2L872.4,221.2L875.5,219.1M842.7,244.2L856.7,241.1L866.6,238.8L872.5,237.3L873.1,239.5L874.9,242.1L878.1,244.3L878.7,246.1M866.6,238.8L869.6,250.5L869.2,252.2M860.2,174.2L864.9,189.2L870.4,206.5L872.7,211.4L876.5,215.0"/><path id="uslakes" d="M606.1,162.7L609.7,156.5L613.4,153.3L619.7,149.8L623.3,145.5L625.7,142.3L635.0,144.5L644.2,144.6L651.7,152.8L655.1,159.4L666.9,158.1L667.8,165.9L672.0,172.4L674.0,178.1L676.1,178.9L675.6,185.3L677.7,185.6M681.8,191.1L686.9,188.4L696.6,189.1L710.5,190.1L717.6,191.0L727.2,190.5L734.2,199.3L742.6,207.9L744.5,210.5L741.2,216.1L729.8,215.9L726.9,210.4L721.0,204.4L716.9,205.0L724.0,214.9L719.6,227.4L721.0,234.1L721.9,242.9L713.3,250.1M705.5,269.9L715.0,269.5L722.8,263.5L730.3,255.4L741.5,252.6L747.5,253.6L753.7,247.6L763.0,244.4M759.6,237.5L756.6,239.2L750.1,239.3L753.2,231.9L761.3,225.4L772.1,221.4L783.3,220.2L788.2,216.3L791.8,212.5L794.1,213.4M276.6,268.3L274.4,272.8L276.1,280.0L282.9,288.1L285.6,289.5L284.4,283.4L282.9,279.2L281.5,274.0L280.9,269.0L276.6,268.3M784.1,550.3L789.2,554.4L785.6,560.0L780.5,555.8L784.1,550.3M798.7,588.4L794.8,594.5L787.4,599.6L782.3,601.5L775.4,604.5L769.2,605.0M757.4,605.7L754.7,605.7"/><path id="akout" d="M220.5,475.9L226.3,511.8L234.7,562.0L243.9,605.4L250.2,605.1L257.5,602.1L261.2,607.3L267.3,611.5L277.3,616.6L281.1,609.5L283.9,603.1L294.0,606.5L307.4,618.3L320.8,628.4L337.4,640.0L344.1,650.0L343.0,658.1L337.1,659.6L331.3,664.0L325.4,665.5L319.5,660.3L313.6,653.7L307.7,647.8L301.8,641.9L295.9,637.5L290.0,630.1L281.1,622.8L272.3,616.9L263.4,614.6L254.6,611.7L245.7,611.0L236.9,610.2L229.5,610.2L221.4,614.6L216.3,608.7L210.4,610.2L205.9,611.7L201.5,611.7L199.3,606.5L202.3,602.1L205.9,600.6L203.7,598.4L197.1,599.9L193.4,603.6L194.2,609.5L196.4,614.6L191.2,615.4L185.3,622.8L177.9,628.6L170.6,630.1L169.1,626.4L173.5,616.9L177.9,608.0L182.4,600.6L185.3,596.2L179.4,600.6L175.0,605.1L170.6,611.0L166.1,618.3L163.2,627.2L161.7,634.5L155.8,641.9L148.5,649.3L139.6,656.7L130.8,662.6L121.9,668.5L113.1,674.3L104.2,680.2L95.4,684.7L86.5,689.1L76.2,692.0L67.4,691.3L65.2,688.4L66.8,686.4L73.4,684.4L86.8,679.5L98.5,674.5L110.3,667.9L121.9,662.0L131.1,659.8L128.6,650.5L125.6,641.9L121.9,635.3L116.0,634.5L108.6,633.8L101.3,633.1L96.9,631.6L98.3,625.7L101.3,622.8L96.9,616.9L89.5,615.4L82.1,613.2L79.2,606.5L77.7,600.6L74.7,593.3L73.3,585.9L76.2,580.0L76.8,582.0L86.8,570.3L96.9,567.0L106.9,565.3L111.9,558.6L112.7,548.6L103.5,551.9L93.5,548.6L83.5,545.2L78.5,535.2L73.5,531.9L75.1,526.9L86.8,523.5L98.5,520.2L100.2,526.9L110.2,526.9L113.6,518.5L106.9,515.2L100.2,508.5L93.5,500.1L88.5,493.5L91.8,488.4L103.5,486.8L110.2,476.7L120.2,470.1L133.6,463.4L143.6,458.4L150.3,463.4L163.7,470.1L177.1,470.1L187.1,473.4L197.1,475.1L203.8,471.7L213.8,473.4ZM167.0,638.8L170.4,645.5L167.0,655.5L160.3,662.2L152.0,665.5L149.5,660.5L153.7,652.2L160.3,643.8ZM61.8,607.1L68.5,604.6L73.5,607.9L71.8,612.1L65.1,611.2ZM43.4,551.9L47.6,550.3L53.4,556.1L61.8,560.3L60.1,562.8L54.3,564.5L50.1,558.6L45.1,556.1Z"/><path id="uswater" d="M836.2,367.1L836.8,371.9L834.3,375.4L829.5,379.4L825.9,385.1L828.0,387.7L832.7,386.7L835.9,383.0L840.6,380.0L840.6,373.1L838.7,369.6ZM833.9,363.6L826.8,366.5L822.6,369.4L832.1,368.6L835.8,367.2ZM827.0,348.6L822.7,343.2L821.1,335.6L819.5,330.0L816.9,322.6L813.5,315.4L813.7,309.4L816.6,302.9L815.9,307.0L815.6,313.0L818.7,320.3L823.3,327.2L825.7,332.7L826.6,340.4L827.6,346.1ZM819.2,330.1L810.9,327.8L807.0,325.1L806.9,327.1L812.2,330.0L819.6,332.0ZM823.2,349.1L817.5,348.3L815.5,346.3L818.4,349.1L822.7,350.7Z"/><g id="doc">
<circle r="33.2" fill="#1d97d4"/><circle r="25.8" fill="#fff"/><circle r="25.8" fill="none" stroke="#19608f" stroke-width=".5"/><circle r="33" fill="none" stroke="#19608f" stroke-width=".4"/>
<path id="dra" d="M-27.9,0 A27.9,27.9 0 0 1 27.9,0" fill="none"/>
<path id="drb" d="M-31.2,0 A31.2,31.2 0 0 0 31.2,0" fill="none"/>
<text style="font-size:4.6px;font-weight:bold;letter-spacing:.35px" fill="#e8f5fc" text-anchor="middle"><textPath href="#dra" startOffset="50%">DEPARTMENT OF COMMERCE</textPath></text>
<text style="font-size:4.6px;font-weight:bold;letter-spacing:.25px" fill="#e8f5fc" text-anchor="middle"><textPath href="#drb" startOffset="50%">UNITED STATES OF AMERICA</textPath></text>
<path d="M-10,-21 L-6,-19.5 L-1.5,-10 L0,-14 L1.5,-10 L6,-19.5 L10,-21 L5.5,-8 L3,-5.5 L-3,-5.5 L-5.5,-8Z" fill="#5d430f"/>
<path d="M-1.8,-14.5 L1.8,-14.5 L1.5,-6 L-1.5,-6Z" fill="#c89a1e"/>
<path d="M-14.5,-4.6 H14.5 L13.3,-3 V10 H-13.3 V-3Z" fill="#1a84cc"/>
<path d="M-13.3,3.5 H13.3 V10 H-13.3Z" fill="#0b3f7a" opacity=".6"/>
<path d="M-8.5,3.2 L-2,-1.2 L4,-1.2 L5,-3 L6,-1.2 L8.5,4.5 L-3,5.5Z" fill="#e9eef3"/>
<path d="M-13.3,9.5 H13.3 V17 Q12,21.5 0,23.5 Q-12,21.5 -13.3,17Z" fill="#e6c10a"/>
<path d="M-13.3,9.5 H13.3 V17 Q12,21.5 0,23.5 Q-12,21.5 -13.3,17Z M-14.5,-4.6 H14.5 L13.3,-3 V10 H-13.3 V-3Z" fill="none" stroke="#4a4a3a" stroke-width=".4"/>
<path d="M-0.8,9.5 h1.6 v14 h-1.6Z" fill="#5a4a14"/>
</g><g id="noaa">
<clipPath id="nc"><circle r="33.4"/></clipPath>
<circle r="33.4" fill="#fff"/>
<g clip-path="url(#nc)">
<path d="M-40,-14 L-33,-10 C-24,-2 -14,8 -2,11.5 C12,10 22,-4 30,-15 L40,-20 V40 H-40Z" fill="#0a8bd0"/>
<path d="M-40,-40 H40 V-22 L26,-20 C18,-12 14,2 2,6 C-10,2 -16,-12 -27,-19 L-40,-21Z" fill="#0c2f8c"/>
<path d="M-9,13.5 C-2,11 6,8 13,6.5 L10,9 C4,10.5 -2,13 -7,15Z" fill="#fff"/>
</g>
<text x="0" y="-10.8" text-anchor="middle" style="font-size:10.5px;font-weight:bold;letter-spacing:-.2px" fill="#fff" textLength="27" lengthAdjust="spacingAndGlyphs">NOAA</text>
</g></defs><g transform="matrix(1.0 0 0 1.0 0.0 0.0)"><g transform="translate(0 0)"><text x="181" y="76.3" textLength="605" lengthAdjust="spacingAndGlyphs" style="font-size:44.4px" fill="#000">6-10 Day Temperature Outlook</text><text x="404" y="109.4" style="font-size:18.4px;font-weight:bold" fill="#111">Valid:</text><text x="462.5" y="109.4" style="font-size:18.4px" fill="#222">June 9 - 13, 2025</text><text x="404" y="129.6" style="font-size:18.4px;font-weight:bold" fill="#111">Issued:</text><text x="479" y="129.6" style="font-size:18.4px" fill="#222">June 3, 2025</text><use href="#doc" x="58.8" y="62.4"/><use href="#noaa" x="908.4" y="62.9"/></g><g clip-path="url(#us)"><rect x="80" y="70" width="880" height="560" fill="#E58F4A"/><path d="M410.0,100.0C410.0,112.1 408.9,131.6 410.0,142.7C411.1,153.8 414.7,158.9 416.5,166.5C418.3,174.1 420.3,180.9 420.8,188.1C421.3,195.3 421.1,202.5 419.7,209.7C418.3,216.9 416.0,223.8 412.2,231.4C408.4,239.0 402.4,247.9 397.0,255.1C391.6,262.3 385.5,268.1 379.7,274.6C373.9,281.1 367.4,287.5 362.4,294.0C357.4,300.5 353.5,306.8 349.5,313.5C345.5,320.2 342.6,327.2 338.6,334.3C334.6,341.4 329.6,348.7 325.7,355.9C321.8,363.1 318.9,370.4 314.9,377.6C310.9,384.8 306.9,392.7 301.9,399.2C296.8,405.7 291.1,411.4 284.6,416.5C278.1,421.6 270.2,425.9 263.0,429.5C255.8,433.1 248.6,436.1 241.4,438.0C234.2,439.9 226.9,441.2 219.7,441.0C212.5,440.8 205.3,438.7 198.1,437.0C190.9,435.3 184.5,430.5 176.5,431.0C168.5,431.5 162.8,445.2 150.0,440.0C137.2,434.8 105.3,414.6 100.0,400.0C94.7,385.4 113.7,362.5 118.0,352.4C122.3,342.3 123.7,345.3 125.7,339.5C127.7,333.7 129.1,325.0 130.0,317.8C130.9,310.6 131.6,303.4 131.1,296.2C130.6,289.0 128.1,281.8 126.8,274.6C125.5,267.4 123.7,260.2 123.5,253.0C123.3,245.8 124.1,240.1 125.7,231.4C127.3,222.8 130.5,210.1 133.2,201.1C135.9,192.1 138.3,185.6 141.9,177.3C145.5,169.0 150.9,160.4 154.9,151.4C158.9,142.4 162.1,132.0 165.7,123.2C169.3,114.4 174.1,107.3 176.5,98.4C178.9,89.5 141.1,74.7 180.0,70.0C218.9,65.3 371.7,65.0 410.0,70.0C448.3,75.0 410.0,87.9 410.0,100.0Z" fill="#DD5B30" stroke="#6b6b6b" stroke-width=".5" stroke-opacity=".6"/><path d="M196.0,101.6C193.5,108.1 189.1,112.1 185.1,118.9C181.1,125.8 176.5,134.8 172.2,142.7C167.9,150.6 162.6,158.9 159.2,166.5C155.8,174.1 153.7,180.2 151.6,188.1C149.5,196.0 147.8,205.1 146.6,214.1C145.3,223.1 144.1,232.1 144.1,242.2C144.1,252.3 144.8,263.8 146.6,274.6C148.4,285.4 151.4,296.2 154.9,307.0C158.4,317.8 162.8,329.8 167.8,339.5C172.8,349.2 178.6,357.5 185.1,365.4C191.6,373.3 199.6,381.6 206.8,387.0C214.0,392.4 220.8,395.7 228.4,397.8C236.0,399.9 244.6,400.7 252.2,399.6C259.8,398.5 267.0,395.3 273.8,391.4C280.6,387.5 287.1,382.7 293.2,376.2C299.3,369.7 305.4,361.0 310.5,352.4C315.6,343.8 319.5,333.7 323.5,324.3C327.5,314.9 330.0,305.6 334.3,296.2C338.6,286.8 344.1,277.5 349.5,268.1C354.9,258.7 362.1,248.3 366.8,240.0C371.5,231.7 375.1,226.3 377.6,218.4C380.1,210.5 381.7,201.1 381.9,192.4C382.1,183.8 380.8,174.1 378.6,166.5C376.4,158.9 371.9,152.4 368.9,147.0C365.8,141.6 362.6,141.8 360.3,134.0C358.0,126.2 381.7,109.0 355.0,100.0C328.3,91.0 226.5,79.7 200.0,80.0C173.5,80.3 198.5,95.1 196.0,101.6Z" fill="#CB2B27" stroke="#6b6b6b" stroke-width=".5" stroke-opacity=".6"/><path d="M247.8,125.4C256.8,125.0 265.5,127.6 273.8,131.9C282.1,136.2 291.1,144.2 297.6,151.4C304.1,158.6 309.6,167.5 312.7,175.1C315.8,182.7 315.9,188.2 315.9,196.8C315.9,205.5 314.7,216.6 312.7,227.0C310.7,237.4 307.7,248.7 304.1,259.5C300.5,270.3 295.8,282.5 291.1,291.9C286.4,301.3 280.9,308.8 275.9,315.7C270.8,322.6 266.6,329.2 260.8,333.0C255.1,336.8 247.9,338.8 241.4,338.4C234.9,338.0 228.4,335.7 221.9,330.8C215.4,325.9 208.2,317.1 202.4,309.2C196.6,301.3 191.6,292.6 187.3,283.2C183.0,273.8 178.8,262.4 176.5,253.0C174.2,243.6 173.2,235.7 173.2,227.0C173.2,218.3 174.5,209.8 176.5,201.1C178.5,192.4 181.1,183.4 185.1,175.1C189.1,166.8 194.5,158.2 200.3,151.4C206.1,144.6 211.8,138.4 219.7,134.1C227.6,129.8 238.8,125.8 247.8,125.4Z" fill="#D22E4C" stroke="#6b6b6b" stroke-width=".5" stroke-opacity=".6"/><path d="M451.1,100.0C393.8,107.5 450.4,133.8 451.1,144.9C451.8,156.0 454.1,159.3 455.4,166.5C456.6,173.7 458.2,180.9 458.6,188.1C459.0,195.3 459.2,201.8 457.6,209.7C456.0,217.6 453.2,227.4 448.9,235.7C444.6,244.0 438.1,252.3 431.6,259.5C425.1,266.7 417.2,272.4 410.0,278.9C402.8,285.4 394.9,291.9 388.4,298.4C381.9,304.9 376.2,310.9 371.1,317.8C366.1,324.7 362.1,332.3 358.1,339.5C354.1,346.7 350.6,353.9 347.3,361.1C344.1,368.3 341.5,375.5 338.6,382.7C335.7,389.9 332.9,397.2 330.0,404.3C327.1,411.4 324.6,418.0 321.4,425.1C318.1,432.2 315.2,440.7 310.5,446.8C305.8,452.9 299.0,457.7 293.2,461.9C287.4,466.1 276.4,465.6 275.9,472.0C275.4,478.4 277.6,490.3 290.0,500.0C302.4,509.7 331.7,518.3 350.0,530.0C368.3,541.7 386.7,565.0 400.0,570.0C413.3,575.0 422.9,564.9 430.0,560.0C437.1,555.1 436.7,545.4 442.4,540.8C448.1,536.2 455.8,535.6 464.1,532.2C472.4,528.8 482.1,523.7 492.2,520.3C502.3,516.9 513.8,514.0 524.6,511.6C535.4,509.2 546.2,507.5 557.0,506.2C567.8,504.9 578.7,504.7 589.5,504.0C600.3,503.3 611.1,503.1 621.9,501.9C632.7,500.6 644.6,498.6 654.3,496.5C664.0,494.4 671.7,491.8 680.3,489.0C688.9,486.2 696.9,484.5 706.0,480.0C715.1,475.5 726.3,468.2 735.0,462.0C743.7,455.8 751.3,450.6 758.0,443.0C764.7,435.4 770.3,424.8 775.4,416.5C780.5,408.2 784.8,402.7 788.4,393.5C792.0,384.3 794.5,371.9 797.0,361.1C799.5,350.3 801.9,339.4 803.5,328.6C805.1,317.8 806.4,306.3 806.8,296.2C807.2,286.1 806.6,276.8 805.7,268.1C804.8,259.5 802.9,251.5 801.4,244.3C799.9,237.1 798.1,232.3 797.0,224.9C795.9,217.5 795.3,220.8 795.0,200.0C794.7,179.2 852.3,116.7 795.0,100.0C737.7,83.3 508.4,92.5 451.1,100.0Z" fill="#EAB569" stroke="#6b6b6b" stroke-width=".5" stroke-opacity=".6"/><path d="M521.5,110.0C479.8,116.2 522.2,137.6 521.5,147.0C520.8,156.4 518.8,158.9 517.0,166.5C515.2,174.1 512.9,183.8 511.0,192.4C509.1,201.1 507.9,210.5 505.5,218.4C503.1,226.3 500.9,233.2 496.5,240.0C492.1,246.8 485.7,253.7 479.2,259.5C472.7,265.3 464.8,269.9 457.6,274.6C450.4,279.3 443.1,282.6 435.9,287.6C428.7,292.7 420.8,299.1 414.3,304.9C407.8,310.7 402.4,316.1 397.0,322.2C391.6,328.3 386.6,334.8 381.9,341.6C377.2,348.4 372.5,356.4 368.9,363.2C365.3,370.0 362.6,375.8 360.3,382.7C358.0,389.6 356.2,398.1 354.9,404.3C353.6,410.5 353.1,414.4 352.7,420.0C352.3,425.6 352.3,432.2 352.7,438.1C353.1,444.0 353.3,448.9 354.9,455.4C356.5,461.9 359.0,470.1 362.4,477.0C365.8,483.9 370.0,491.1 375.4,496.5C380.8,501.9 387.3,506.2 394.9,509.5C402.5,512.8 411.4,515.3 420.8,516.0C430.2,516.7 441.0,515.4 451.1,513.8C461.2,512.2 470.9,508.7 481.4,506.2C491.8,503.7 503.0,500.9 513.8,498.6C524.6,496.3 535.4,494.0 546.2,492.2C557.0,490.4 567.8,489.1 578.6,487.8C589.4,486.5 600.3,486.0 611.1,484.6C621.9,483.2 633.4,481.6 643.5,479.2C653.6,476.8 662.6,474.1 671.6,470.5C680.6,466.9 689.7,462.3 697.6,457.6C705.5,452.9 712.7,447.8 719.2,442.4C725.7,437.0 731.5,431.6 736.5,425.1C741.5,418.6 746.4,411.1 749.5,403.5C752.6,395.9 753.6,386.8 755.0,379.7C756.4,372.6 756.9,369.5 758.0,361.0C759.1,352.5 760.1,339.4 761.4,328.6C762.7,317.8 764.6,305.2 765.7,296.2C766.8,287.2 767.1,281.8 767.8,274.6C768.5,267.4 769.5,260.2 770.0,253.0C770.5,245.8 770.8,240.2 771.1,231.4C771.4,222.6 771.9,220.2 772.0,200.0C772.1,179.8 813.8,125.0 772.0,110.0C730.2,95.0 563.2,103.8 521.5,110.0Z" fill="#A0A0A0" stroke="#6b6b6b" stroke-width=".5" stroke-opacity=".6"/><path d="M587.3,253.0C598.1,250.5 611.1,250.3 619.7,250.8C628.4,251.3 632.0,251.5 639.2,256.2C646.4,260.9 656.1,271.9 663.0,278.9C669.9,285.9 675.6,291.2 680.3,298.4C685.0,305.6 688.2,313.5 691.1,322.2C694.0,330.9 696.5,341.0 697.6,350.3C698.8,359.6 698.5,369.7 698.0,378.0C697.5,386.3 696.7,392.9 694.5,400.0C692.3,407.1 689.9,414.1 684.6,420.8C679.4,427.5 671.6,434.9 663.0,440.3C654.4,445.7 643.2,450.0 632.7,453.2C622.2,456.4 611.1,459.0 600.3,459.7C589.5,460.4 578.6,459.0 567.8,457.6C557.0,456.2 546.2,453.6 535.4,451.1C524.6,448.6 513.8,445.6 503.0,442.4C492.2,439.1 480.6,435.2 470.5,431.6C460.4,428.0 450.3,424.8 442.4,420.8C434.5,416.8 427.1,412.1 423.0,407.8C418.9,403.5 417.6,399.5 417.6,394.9C417.6,390.3 420.1,385.0 423.0,380.0C425.9,375.0 430.3,369.7 435.0,365.0C439.7,360.3 445.5,355.9 451.1,351.6C456.7,347.4 461.9,344.8 468.4,339.5C474.9,334.2 481.4,327.6 490.0,320.0C498.6,312.4 509.5,303.1 520.3,294.1C531.1,285.1 543.7,272.8 554.9,265.9C566.1,259.0 576.5,255.5 587.3,253.0Z" fill="#C3CEEB" stroke="#6b6b6b" stroke-width=".5" stroke-opacity=".6"/><path d="M865.1,162.2C866.9,167.7 868.1,170.3 870.5,173.0C872.9,175.7 876.0,178.1 879.2,178.4C882.5,178.8 887.1,177.4 890.0,175.1C892.9,172.8 894.8,170.2 896.5,164.3C898.2,158.5 899.4,150.7 900.0,140.0C900.6,129.3 906.7,106.7 900.0,100.0C893.3,93.3 866.7,93.3 860.0,100.0C853.3,106.7 859.1,129.6 860.0,140.0C860.9,150.4 863.4,156.7 865.1,162.2Z" fill="#DD5B30" stroke="#6b6b6b" stroke-width=".5" stroke-opacity=".6"/><path d="M715.0,511.0L730.0,505.1L762.4,491.1L780.0,484.0L850.0,484.0L850.0,620.0L715.0,620.0Z" fill="#DD5B30" stroke="#6b6b6b" stroke-width=".5" stroke-opacity=".6"/><path d="M735.0,538.0L748.4,533.2L780.8,521.4L800.0,514.0L850.0,514.0L850.0,620.0L735.0,620.0Z" fill="#CB2B27" stroke="#6b6b6b" stroke-width=".5" stroke-opacity=".6"/><path d="M479.2,574.3L488.0,563.0L500.8,557.0L520.0,560.0L520.0,610.0L470.0,610.0Z" fill="#DD5B30" stroke="#6b6b6b" stroke-width=".5" stroke-opacity=".6"/></g><use href="#uswater" fill="#fff" stroke="#888" stroke-width=".4"/><use href="#uslakes" fill="none" stroke="#777" stroke-width=".7"/><use href="#usbord" fill="none" stroke="#444" stroke-width=".6" stroke-opacity=".75"/><use href="#usout" fill="none" stroke="#666" stroke-width=".9" stroke-linejoin="round"/><path d="M22.6,449.8 H207.5 L353.8,610.8 H617.3 V773.4 H22.6Z M22.6,698.9 H353.8 M353.8,610.8 V773.4" fill="none" stroke="#333" stroke-width="1.3"/><g clip-path="url(#ak)"><rect x="20" y="445" width="340" height="260" fill="#A8C6E6"/><path d="M253.9,488.8C248.5,473.2 229.7,488.7 221.3,488.8C213.0,488.9 209.5,490.0 203.8,489.3C198.1,488.5 192.6,485.9 187.1,484.3C181.5,482.6 175.1,479.8 170.4,479.3C165.6,478.7 162.0,479.1 158.7,480.9C155.3,482.7 152.8,485.8 150.3,490.1C147.8,494.4 145.4,501.2 143.6,506.8C141.8,512.4 140.2,518.2 139.5,523.5C138.7,528.8 138.3,534.4 139.0,538.6C139.7,542.7 140.6,545.8 143.6,548.6C146.6,551.4 152.0,553.3 157.0,555.3C162.0,557.2 167.6,558.6 173.7,560.3C179.8,562.0 187.1,563.6 193.8,565.3C200.4,567.0 207.7,568.6 213.8,570.3C219.9,572.0 226.3,573.9 230.5,575.3C234.7,576.7 235.0,577.5 238.9,578.7C242.8,579.8 251.4,597.0 253.9,582.0C256.4,567.0 259.3,504.3 253.9,488.8Z" fill="#7CB6E4" stroke="#6b6b6b" stroke-width=".4" stroke-opacity=".6"/><path d="M253.9,507.7C249.0,498.0 233.0,507.5 224.7,507.7C216.3,507.8 210.0,508.2 203.8,508.5C197.5,508.8 190.8,508.2 187.1,509.3C183.3,510.4 182.2,512.8 181.2,515.2C180.3,517.5 180.3,520.5 181.2,523.5C182.2,526.6 184.4,530.5 187.1,533.6C189.7,536.6 193.2,539.1 197.1,541.9C201.0,544.7 206.0,547.8 210.5,550.3C214.9,552.8 219.8,555.1 223.8,556.9C227.9,558.8 229.7,559.7 234.7,561.1C239.7,562.5 250.7,574.2 253.9,565.3C257.1,556.4 258.8,517.3 253.9,507.7Z" fill="#38A0DB" stroke="#6b6b6b" stroke-width=".4" stroke-opacity=".6"/><path d="M53.4,612.1C57.5,595.5 70.7,606.5 77.6,604.6C84.6,602.6 89.2,602.2 95.2,600.4C101.2,598.6 107.2,596.2 113.6,593.7C120.0,591.2 126.9,587.9 133.6,585.3C140.3,582.8 147.5,579.9 153.7,578.7C159.8,577.4 164.8,577.0 170.4,577.8C175.9,578.7 181.5,581.3 187.1,583.7C192.6,586.0 198.2,589.2 203.8,592.0C209.4,594.8 215.2,597.7 220.5,600.4C225.8,603.0 231.8,606.2 235.5,607.9C239.3,609.6 242.2,607.3 243.0,610.7C243.9,614.2 252.7,614.6 240.5,628.8C228.4,642.9 201.6,683.1 170.4,695.6C139.2,708.1 72.9,717.9 53.4,704.0C33.9,690.0 49.4,628.6 53.4,612.1Z" fill="#C3CEEB" stroke="#6b6b6b" stroke-width=".4" stroke-opacity=".6"/><path d="M93.9,631.6C101.3,626.9 100.0,628.0 104.2,625.7C108.4,623.4 114.1,620.2 119.0,617.6C123.9,615.0 128.8,612.6 133.7,610.2C138.6,607.9 143.5,605.6 148.5,603.6C153.4,601.6 158.3,599.8 163.2,598.4C168.1,597.1 173.8,596.0 177.9,595.5C182.1,595.0 185.1,594.9 188.3,595.5C191.4,596.1 194.8,597.6 197.1,599.2C199.4,600.8 201.2,602.6 202.3,605.1C203.4,607.5 205.3,608.3 203.7,613.9C202.1,619.6 206.8,625.0 192.7,639.0C178.6,653.0 141.1,688.1 119.0,697.9C96.9,707.8 69.8,705.3 60.0,697.9C50.2,690.6 54.3,664.8 60.0,653.7C65.7,642.7 86.5,636.3 93.9,631.6Z" fill="#A0A0A0" stroke="#6b6b6b" stroke-width=".4" stroke-opacity=".6"/><path d="M242.2,609.6C242.4,607.6 240.0,604.4 244.7,602.1C249.5,599.7 252.4,590.9 270.6,595.4C288.9,599.8 340.2,614.9 354.2,628.8C368.1,642.7 362.5,670.6 354.2,678.9C345.8,687.3 318.0,685.9 304.0,678.9C290.1,671.9 280.6,648.0 270.6,637.1C260.6,626.3 248.6,618.3 243.9,613.7C239.1,609.2 242.1,611.5 242.2,609.6Z" fill="#A8C6E6" stroke="#6b6b6b" stroke-width=".4" stroke-opacity=".6"/></g><path d="M167.0,638.8L170.4,645.5L167.0,655.5L160.3,662.2L152.0,665.5L149.5,660.5L153.7,652.2L160.3,643.8Z" fill="#A0A0A0"/><path d="M61.8,607.1L68.5,604.6L73.5,607.9L71.8,612.1L65.1,611.2Z" fill="#C3CEEB"/><path d="M43.4,551.9L47.6,550.3L53.4,556.1L61.8,560.3L60.1,562.8L54.3,564.5L50.1,558.6L45.1,556.1Z" fill="#A8C6E6"/><use href="#akout" fill="none" stroke="#777" stroke-width=".6"/><path d="M269.3,616.9L281.1,624.2L292.9,634.5L303.2,644.9L313.6,653.7L323.9,662.6" fill="none" stroke="#4a4a4a" stroke-width=".9" stroke-opacity=".85"/><path d="M281.1,619.8L294.4,628.6L304.7,639.0L316.5,649.3L325.4,658.1" fill="none" stroke="#4a4a4a" stroke-width=".9" stroke-opacity=".85"/><path d="M295.9,622.8L307.7,631.6L318.0,640.4L328.3,649.3L335.7,656.7" fill="none" stroke="#4a4a4a" stroke-width=".9" stroke-opacity=".85"/><path d="M310.6,627.2L322.4,636.0L332.7,644.9L340.1,652.2" fill="none" stroke="#4a4a4a" stroke-width=".9" stroke-opacity=".85"/><path d="M285.6,608.0L295.9,615.4L307.7,624.2L319.5,634.5" fill="none" stroke="#4a4a4a" stroke-width=".9" stroke-opacity=".85"/><path d="M290.0,628.6L295.9,624.2" fill="none" stroke="#4a4a4a" stroke-width=".9" stroke-opacity=".85"/><path d="M303.2,641.9L310.6,634.5" fill="none" stroke="#4a4a4a" stroke-width=".9" stroke-opacity=".85"/><path d="M316.5,650.8L323.9,641.9" fill="none" stroke="#4a4a4a" stroke-width=".9" stroke-opacity=".85"/><path d="M326.8,659.6L334.2,650.8" fill="none" stroke="#4a4a4a" stroke-width=".9" stroke-opacity=".85"/><path d="M263.4,612.4L272.3,613.9L276.7,618.3" fill="none" stroke="#4a4a4a" stroke-width=".9" stroke-opacity=".85"/><path d="M298.8,633.1L303.2,627.2" fill="none" stroke="#4a4a4a" stroke-width=".9" stroke-opacity=".85"/><path d="M310.6,647.8L316.5,640.4" fill="none" stroke="#4a4a4a" stroke-width=".9" stroke-opacity=".85"/><path d="M322.4,656.7L329.8,649.3" fill="none" stroke="#4a4a4a" stroke-width=".9" stroke-opacity=".85"/><path d="M332.7,662.6L338.6,656.7" fill="none" stroke="#4a4a4a" stroke-width=".9" stroke-opacity=".85"/><path d="M290.0,618.3L287.0,624.2" fill="none" stroke="#4a4a4a" stroke-width=".9" stroke-opacity=".85"/><path d="M301.8,624.2L298.8,630.1" fill="none" stroke="#4a4a4a" stroke-width=".9" stroke-opacity=".85"/><path d="M315.0,633.1L312.1,639.0" fill="none" stroke="#4a4a4a" stroke-width=".9" stroke-opacity=".85"/><path d="M326.8,641.9L323.9,647.8" fill="none" stroke="#4a4a4a" stroke-width=".9" stroke-opacity=".85"/><path d="M301.8,636.8L310.6,646.3L320.2,656.7" fill="none" stroke="#fff" stroke-width="1.1"/><path d="M290.0,624.2L298.8,631.6" fill="none" stroke="#fff" stroke-width="1.1"/><path d="M319.5,639.0L326.8,646.3L332.7,653.7" fill="none" stroke="#fff" stroke-width="1.1"/><path d="M294.4,616.9L304.7,625.7L313.6,631.6" fill="none" stroke="#fff" stroke-width="1.1"/><path d="M310.6,641.9L318.0,649.3" fill="none" stroke="#fff" stroke-width="1.1"/><path d="M366.5,639.7L368.5,635.8L371.7,632.5L374.3,629.9L375.6,631.9L375.0,635.1L371.7,637.7L369.1,640.3Z" fill="#DD5B30" stroke="#666" stroke-width=".5" stroke-linejoin="round"/><path d="M386.3,628.6L389.3,623.4L395.2,620.1L404.3,620.1L406.9,623.4L407.6,628.6L405.0,633.8L401.1,636.2L393.9,634.5L388.7,631.9Z" fill="#DD5B30" stroke="#666" stroke-width=".5" stroke-linejoin="round"/><path d="M452.6,648.2L457.8,646.2L463.6,641.0L466.9,644.3L470.8,649.5L474.7,653.4L478.0,659.2L473.4,660.5L468.2,658.6L463.0,659.2L459.1,660.5L455.8,654.7Z" fill="#DD5B30" stroke="#666" stroke-width=".5" stroke-linejoin="round"/><path d="M494.0,667.7L495.6,663.2L503.4,663.8L512.5,664.5L518.8,664.1L517.7,667.1L511.9,669.0L502.1,667.7Z" fill="#DD5B30" stroke="#666" stroke-width=".5" stroke-linejoin="round"/><path d="M504.7,676.8L508.6,675.3L513.8,676.8L515.1,680.8L511.9,683.6L508.0,682.1Z" fill="#DD5B30" stroke="#666" stroke-width=".5" stroke-linejoin="round"/><path d="M520.3,674.2L523.0,670.6L526.9,671.6L530.8,674.9L537.3,673.6L545.1,676.2L550.3,680.8L549.7,684.7L543.8,687.9L537.3,690.1L532.7,688.6L530.8,683.4L525.6,679.5L521.6,677.5Z" fill="#DD5B30" stroke="#666" stroke-width=".5" stroke-linejoin="round"/><path d="M521.0,693.1L524.9,689.6L527.5,690.5L526.2,693.1Z" fill="#DD5B30" stroke="#666" stroke-width=".5" stroke-linejoin="round"/><path d="M554.9,708.1L557.5,703.2L566.0,707.5L573.8,710.7L582.9,714.7L590.7,721.2L594.7,726.4L597.3,731.6L603.8,735.5L598.6,740.7L589.4,747.2L580.3,753.8L573.8,760.3L567.3,764.2L559.5,759.0L556.2,752.5L557.5,743.3L553.6,735.5L549.7,727.7L552.9,722.5L556.2,717.3Z" fill="#E58F4A" stroke="#666" stroke-width=".5" stroke-linejoin="round"/><ellipse cx="33.0" cy="708.3" rx="2.0" ry="1.1" transform="rotate(20 33.0 708.3)" fill="#888" stroke="#555" stroke-width=".3"/><ellipse cx="37.7" cy="711.5" rx="2.6" ry="1.6" transform="rotate(20 37.7 711.5)" fill="#888" stroke="#555" stroke-width=".3"/><ellipse cx="44.0" cy="724.1" rx="3.2" ry="1.1" transform="rotate(20 44.0 724.1)" fill="#888" stroke="#555" stroke-width=".3"/><ellipse cx="50.3" cy="725.6" rx="2.0" ry="1.6" transform="rotate(20 50.3 725.6)" fill="#888" stroke="#555" stroke-width=".3"/><ellipse cx="75.5" cy="731.9" rx="2.6" ry="1.1" transform="rotate(20 75.5 731.9)" fill="#888" stroke="#555" stroke-width=".3"/><ellipse cx="94.3" cy="744.5" rx="3.2" ry="1.6" transform="rotate(20 94.3 744.5)" fill="#888" stroke="#555" stroke-width=".3"/><ellipse cx="103.8" cy="747.6" rx="2.0" ry="1.1" transform="rotate(20 103.8 747.6)" fill="#888" stroke="#555" stroke-width=".3"/><ellipse cx="110.1" cy="755.5" rx="2.6" ry="1.6" transform="rotate(20 110.1 755.5)" fill="#888" stroke="#555" stroke-width=".3"/><ellipse cx="119.5" cy="763.4" rx="3.2" ry="1.1" transform="rotate(20 119.5 763.4)" fill="#888" stroke="#555" stroke-width=".3"/><ellipse cx="125.8" cy="750.8" rx="2.0" ry="1.6" transform="rotate(20 125.8 750.8)" fill="#E58F4A" stroke="#555" stroke-width=".3"/><ellipse cx="141.5" cy="769.0" rx="2.6" ry="1.1" transform="rotate(20 141.5 769.0)" fill="#E58F4A" stroke="#555" stroke-width=".3"/><ellipse cx="147.8" cy="766.5" rx="3.2" ry="1.6" transform="rotate(20 147.8 766.5)" fill="#E58F4A" stroke="#555" stroke-width=".3"/><ellipse cx="176.1" cy="764.0" rx="2.0" ry="1.1" transform="rotate(20 176.1 764.0)" fill="#E58F4A" stroke="#555" stroke-width=".3"/><ellipse cx="185.6" cy="760.2" rx="2.6" ry="1.6" transform="rotate(20 185.6 760.2)" fill="#E58F4A" stroke="#555" stroke-width=".3"/><ellipse cx="207.6" cy="757.1" rx="3.2" ry="1.1" transform="rotate(20 207.6 757.1)" fill="#E58F4A" stroke="#555" stroke-width=".3"/><ellipse cx="217.0" cy="758.6" rx="2.0" ry="1.6" transform="rotate(20 217.0 758.6)" fill="#E58F4A" stroke="#555" stroke-width=".3"/><ellipse cx="235.9" cy="755.5" rx="2.6" ry="1.1" transform="rotate(20 235.9 755.5)" fill="#E58F4A" stroke="#555" stroke-width=".3"/><ellipse cx="261.0" cy="749.2" rx="3.2" ry="1.6" transform="rotate(20 261.0 749.2)" fill="#E58F4A" stroke="#555" stroke-width=".3"/><ellipse cx="273.6" cy="744.5" rx="2.0" ry="1.1" transform="rotate(-30 273.6 744.5)" fill="#E58F4A" stroke="#555" stroke-width=".3"/><ellipse cx="284.6" cy="739.8" rx="2.6" ry="1.6" transform="rotate(-30 284.6 739.8)" fill="#888" stroke="#555" stroke-width=".3"/><path d="M283.0,745.6L291.2,735.7L301.0,733.3L310.9,727.5L314.1,719.3L322.4,717.7L325.6,722.6L317.4,729.2L307.6,734.1L297.7,739.0L287.9,745.6Z" fill="#A0A0A0" stroke="#555" stroke-width=".4"/><path d="M325.6,721.0L332.2,714.4L342.0,712.0" fill="none" stroke="#666" stroke-width=".9"/><text x="783.7" y="624.0" text-anchor="middle" style="font-size:12.8px;font-weight:bold" fill="#111">Probability</text><text x="783.7" y="639.0" text-anchor="middle" style="font-size:12.9px;font-weight:bold" fill="#111">(Percent Chance)</text><text x="722.8" y="653.2" text-anchor="middle" style="font-size:9.6px;font-weight:bold" fill="#111">Above Normal</text><text x="845.6" y="653.2" text-anchor="middle" style="font-size:9.6px;font-weight:bold" fill="#111">Below Normal</text><rect x="689.3" y="665.2" width="23.1" height="10" fill="#EAB569" stroke="#000" stroke-opacity=".22" stroke-width=".6"/><rect x="857.3" y="665.2" width="23.1" height="10" fill="#C3CEEB" stroke="#000" stroke-opacity=".22" stroke-width=".6"/><text x="717.4" y="673.5" style="font-size:9.2px" fill="#444">33-40%</text><text x="852" y="673.5" text-anchor="end" style="font-size:9.2px" fill="#444">33-40%</text><rect x="689.3" y="681.0" width="23.1" height="10" fill="#E58F4A" stroke="#000" stroke-opacity=".22" stroke-width=".6"/><rect x="857.3" y="681.0" width="23.1" height="10" fill="#A8C6E6" stroke="#000" stroke-opacity=".22" stroke-width=".6"/><text x="717.4" y="689.3" style="font-size:9.2px" fill="#444">40-50%</text><text x="852" y="689.3" text-anchor="end" style="font-size:9.2px" fill="#444">40-50%</text><rect x="689.3" y="696.8" width="23.1" height="10" fill="#DD5B30" stroke="#000" stroke-opacity=".22" stroke-width=".6"/><rect x="857.3" y="696.8" width="23.1" height="10" fill="#7CB6E4" stroke="#000" stroke-opacity=".22" stroke-width=".6"/><text x="717.4" y="705.1" style="font-size:9.2px" fill="#444">50-60%</text><text x="852" y="705.1" text-anchor="end" style="font-size:9.2px" fill="#444">50-60%</text><rect x="689.3" y="712.6" width="23.1" height="10" fill="#CB2B27" stroke="#000" stroke-opacity=".22" stroke-width=".6"/><rect x="857.3" y="712.6" width="23.1" height="10" fill="#38A0DB" stroke="#000" stroke-opacity=".22" stroke-width=".6"/><text x="717.4" y="720.9" style="font-size:9.2px" fill="#444">60-70%</text><text x="852" y="720.9" text-anchor="end" style="font-size:9.2px" fill="#444">60-70%</text><rect x="689.3" y="728.4" width="23.1" height="10" fill="#D22E4C" stroke="#000" stroke-opacity=".22" stroke-width=".6"/><rect x="857.3" y="728.4" width="23.1" height="10" fill="#0060AA" stroke="#000" stroke-opacity=".22" stroke-width=".6"/><text x="717.4" y="736.7" style="font-size:9.2px" fill="#444">70-80%</text><text x="852" y="736.7" text-anchor="end" style="font-size:9.2px" fill="#444">70-80%</text><rect x="689.3" y="744.2" width="23.1" height="10" fill="#8B2A33" stroke="#000" stroke-opacity=".22" stroke-width=".6"/><rect x="857.3" y="744.2" width="23.1" height="10" fill="#2D1F7D" stroke="#000" stroke-opacity=".22" stroke-width=".6"/><text x="717.4" y="752.5" style="font-size:9.2px" fill="#444">80-90%</text><text x="852" y="752.5" text-anchor="end" style="font-size:9.2px" fill="#444">80-90%</text><rect x="689.3" y="760.0" width="23.1" height="10" fill="#641E25" stroke="#000" stroke-opacity=".22" stroke-width=".6"/><rect x="857.3" y="760.0" width="23.1" height="10" fill="#211855" stroke="#000" stroke-opacity=".22" stroke-width=".6"/><text x="717.4" y="768.3" style="font-size:9.2px" fill="#444">90-100%</text><text x="852" y="768.3" text-anchor="end" style="font-size:9.2px" fill="#444">90-100%</text><text x="783.7" y="698.3" text-anchor="middle" style="font-size:9.9px;font-weight:bold" fill="#111">Near</text><text x="783.7" y="709.3" text-anchor="middle" style="font-size:9.9px;font-weight:bold" fill="#111">Normal</text><rect x="772.4" y="720.3" width="23.1" height="10" fill="#A0A0A0" stroke="#000" stroke-opacity=".22" stroke-width=".6"/><text x="647.6" y="675" text-anchor="middle" style="font-size:11.5px" fill="#3c3c3c">Leaning</text><text x="647.6" y="688.4" text-anchor="middle" style="font-size:11.5px" fill="#3c3c3c">Above</text><text x="647.6" y="729.6" text-anchor="middle" style="font-size:11.5px" fill="#3c3c3c">Likely</text><text x="647.6" y="742.8" text-anchor="middle" style="font-size:11.5px" fill="#3c3c3c">Above</text><text x="923.3" y="675" text-anchor="middle" style="font-size:11.5px" fill="#3c3c3c">Leaning</text><text x="923.3" y="688.4" text-anchor="middle" style="font-size:11.5px" fill="#3c3c3c">Below</text><text x="923.3" y="729.6" text-anchor="middle" style="font-size:11.5px" fill="#3c3c3c">Likely</text><text x="923.3" y="742.8" text-anchor="middle" style="font-size:11.5px" fill="#3c3c3c">Below</text><path d="M681.5,664.5 C675.75,664.5 674.6,674.2 670,678.2 C674.6,682.2 675.75,692 681.5,692" fill="none" stroke="#3a3a3a" stroke-width=".9"/><path d="M685,697.5 C677.5,697.5 676.0,730 670,734 C676.0,738 677.5,770.5 685,770.5" fill="none" stroke="#3a3a3a" stroke-width=".9"/><path d="M884,664.5 C890.0,664.5 891.2,674.2 896,678.2 C891.2,682.2 890.0,692 884,692" fill="none" stroke="#3a3a3a" stroke-width=".9"/><path d="M884.5,697 C890.75,697 892.0,730 897,734 C892.0,738 890.75,770.5 884.5,770.5" fill="none" stroke="#3a3a3a" stroke-width=".9"/><path d="M410.0,626.0L432.0,628.0" stroke="#222" stroke-width=".8"/><path d="M527.0,690.0L522.0,710.0" stroke="#222" stroke-width=".8"/><path d="M178.0,760.0L243.0,762.0" stroke="#222" stroke-width=".8"/><path d="M288.0,726.0L301.0,734.0" stroke="#222" stroke-width=".8"/><text x="243.0" y="239.0" text-anchor="middle" style="font-size:21.0px;font-weight:bold" fill="#111" stroke="#fff" stroke-width="3.0" stroke-linejoin="round" paint-order="stroke">Above</text><text x="577.0" y="377.0" text-anchor="middle" style="font-size:21.0px;font-weight:bold" fill="#111" stroke="#fff" stroke-width="3.0" stroke-linejoin="round" paint-order="stroke">Below</text><text x="426.0" y="472.0" text-anchor="middle" style="font-size:21.0px;font-weight:bold" fill="#111" stroke="#fff" stroke-width="3.0" stroke-linejoin="round" paint-order="stroke">Near</text><text x="426.0" y="496.0" text-anchor="middle" style="font-size:21.0px;font-weight:bold" fill="#111" stroke="#fff" stroke-width="3.0" stroke-linejoin="round" paint-order="stroke">Normal</text><text x="882.0" y="162.0" text-anchor="middle" style="font-size:21.0px;font-weight:bold" fill="#111" stroke="#fff" stroke-width="3.0" stroke-linejoin="round" paint-order="stroke">Above</text><text x="636.0" y="540.0" text-anchor="middle" style="font-size:21.0px;font-weight:bold" fill="#111" stroke="#fff" stroke-width="3.0" stroke-linejoin="round" paint-order="stroke">Above</text><text x="777.0" y="559.0" text-anchor="middle" style="font-size:21.0px;font-weight:bold" fill="#111" stroke="#fff" stroke-width="3.0" stroke-linejoin="round" paint-order="stroke">Above</text><text x="486.0" y="590.0" text-anchor="middle" style="font-size:21.0px;font-weight:bold" fill="#111" stroke="#fff" stroke-width="3.0" stroke-linejoin="round" paint-order="stroke">Above</text><text x="210.0" y="535.0" text-anchor="middle" style="font-size:16.6px;font-weight:bold" fill="#111" stroke="#fff" stroke-width="2.4" stroke-linejoin="round" paint-order="stroke">Below</text><text x="45.0" y="558.0" text-anchor="middle" style="font-size:16.6px;font-weight:bold" fill="#111" stroke="#fff" stroke-width="2.4" stroke-linejoin="round" paint-order="stroke">Below</text><text x="288.0" y="613.0" text-anchor="middle" style="font-size:16.6px;font-weight:bold" fill="#111" stroke="#fff" stroke-width="2.4" stroke-linejoin="round" paint-order="stroke">Below</text><text x="147.0" y="631.0" text-anchor="middle" style="font-size:15.5px;font-weight:bold" fill="#111" stroke="#fff" stroke-width="2.4" stroke-linejoin="round" paint-order="stroke">Near</text><text x="147.0" y="650.0" text-anchor="middle" style="font-size:15.5px;font-weight:bold" fill="#111" stroke="#fff" stroke-width="2.4" stroke-linejoin="round" paint-order="stroke">Normal</text><text x="452.0" y="631.0" text-anchor="middle" style="font-size:11.9px;font-weight:bold" fill="#111">Above</text><text x="504.0" y="715.0" text-anchor="middle" style="font-size:11.9px;font-weight:bold" fill="#111">Above</text><text x="190.0" y="712.0" text-anchor="middle" style="font-size:13.3px;font-weight:bold" fill="#111">Aleutian Islands</text><text x="265.0" y="723.0" text-anchor="middle" style="font-size:10.9px;font-weight:bold" fill="#111">Near</text><text x="265.0" y="736.0" text-anchor="middle" style="font-size:10.9px;font-weight:bold" fill="#111">Normal</text><text x="157.0" y="762.0" text-anchor="middle" style="font-size:11.9px;font-weight:bold" fill="#111">Above</text><text x="266.0" y="763.0" text-anchor="middle" style="font-size:11.9px;font-weight:bold" fill="#111">Above</text></g><g transform="matrix(1.0177 0 0 1.0177 999.6 -4.16)"><g transform="translate(0 0)"><text x="181" y="76.3" textLength="605" lengthAdjust="spacingAndGlyphs" style="font-size:44.4px" fill="#000">8-14 Day Temperature Outlook</text><text x="404" y="109.4" style="font-size:18.4px;font-weight:bold" fill="#111">Valid:</text><text x="462.5" y="109.4" style="font-size:18.4px" fill="#222">June 12 - 18, 2025</text><text x="404" y="129.6" style="font-size:18.4px;font-weight:bold" fill="#111">Issued:</text><text x="479" y="129.6" style="font-size:18.4px" fill="#222">June 4, 2025</text><use href="#doc" x="58.8" y="62.4"/><use href="#noaa" x="908.4" y="62.9"/></g><g clip-path="url(#us)"><rect x="80" y="70" width="880" height="560" fill="#EAB569"/><path d="M325.7,99.5C224.3,104.9 328.9,123.8 325.7,132.1C322.4,140.4 313.0,142.6 306.1,149.5C299.2,156.4 290.9,165.8 284.4,173.4C277.9,181.0 272.1,187.9 267.0,195.1C261.9,202.4 257.9,209.6 254.0,216.8C250.0,224.1 246.0,231.3 243.1,238.6C240.2,245.8 238.1,253.1 236.6,260.3C235.1,267.5 234.0,274.8 234.0,282.0C234.0,289.3 235.1,296.9 236.6,303.8C238.1,310.6 240.2,316.8 243.1,323.3C246.0,329.8 249.6,336.7 254.0,342.9C258.3,349.0 263.4,354.8 269.2,360.3C275.0,365.7 281.8,370.8 288.7,375.5C295.6,380.2 302.9,385.2 310.5,388.5C318.1,391.8 326.0,394.2 334.4,395.5C342.7,396.7 351.4,396.7 360.4,396.1C369.5,395.5 379.6,393.8 388.7,391.8C397.7,389.8 406.1,386.9 414.8,384.2C423.4,381.4 432.1,378.4 440.8,375.5C449.5,372.6 458.2,369.7 466.9,366.8C475.6,363.9 484.3,361.0 493.0,358.1C501.7,355.2 511.3,352.5 519.1,349.4C526.8,346.3 531.7,342.9 539.5,339.6C547.3,336.4 556.9,332.9 565.6,329.8C574.3,326.8 583.0,323.7 591.6,321.1C600.3,318.6 609.0,316.1 617.7,314.6C626.4,313.1 635.1,312.0 643.8,312.0C652.5,312.0 661.2,313.1 669.9,314.6C678.6,316.1 687.3,318.4 695.9,321.1C704.6,323.9 713.3,327.1 722.0,330.9C730.7,334.7 740.1,339.4 748.1,344.0C756.1,348.5 763.3,352.8 769.8,358.1C776.3,363.3 782.5,369.7 787.2,375.5C791.9,381.3 795.2,387.1 798.1,392.8C801.0,398.6 803.0,404.8 804.6,410.2C806.2,415.7 798.4,421.1 807.8,425.4C817.3,429.8 840.1,443.5 861.1,436.3C882.1,429.1 921.7,438.1 933.9,382.0C946.0,325.8 1035.2,146.6 933.9,99.5C832.5,52.4 427.0,94.1 325.7,99.5Z" fill="#E58F4A" stroke="#6b6b6b" stroke-width=".5" stroke-opacity=".6"/><path d="M490.8,110.4C474.9,116.5 494.4,139.7 490.8,147.3C487.2,154.9 478.1,152.7 469.1,156.0C460.0,159.3 447.3,163.2 436.5,166.9C425.6,170.5 413.7,173.4 403.9,177.7C394.1,182.1 386.1,187.5 377.8,192.9C369.5,198.4 361.5,204.5 353.9,210.3C346.3,216.1 339.4,221.9 332.2,227.7C324.9,233.5 317.0,239.3 310.5,245.1C303.9,250.9 297.4,256.7 293.1,262.5C288.7,268.3 286.0,274.4 284.4,279.9C282.8,285.3 282.2,290.0 283.3,295.1C284.4,300.1 287.1,305.9 290.9,310.3C294.7,314.6 300.0,317.9 306.1,321.1C312.3,324.4 319.9,327.7 327.8,329.8C335.8,331.9 344.9,333.2 353.9,333.7C363.0,334.3 372.7,333.7 382.2,333.1C391.6,332.4 401.4,331.3 410.4,329.8C419.5,328.4 427.8,326.6 436.5,324.4C445.2,322.2 453.9,319.5 462.6,316.8C471.2,314.1 480.3,311.0 488.6,308.1C497.0,305.2 504.1,302.3 512.5,299.4C521.0,296.5 531.7,294.0 539.5,290.7C547.3,287.5 552.9,283.8 559.1,279.9C565.2,275.9 571.4,271.5 576.4,266.8C581.5,262.1 585.9,257.0 589.5,251.6C593.1,246.2 596.2,240.0 598.2,234.2C600.2,228.4 601.1,223.4 601.4,216.8C601.8,210.3 601.6,202.0 600.3,195.1C599.1,188.2 596.2,181.4 593.8,175.6C591.5,169.8 587.5,171.2 586.2,160.4C584.9,149.5 602.1,118.7 586.2,110.4C570.3,102.0 506.7,104.2 490.8,110.4Z" fill="#DD5B30" stroke="#6b6b6b" stroke-width=".5" stroke-opacity=".6"/><path d="M850.2,171.2C852.0,182.8 857.6,176.6 861.1,179.9C864.5,183.2 867.2,187.1 870.9,190.8C874.5,194.4 872.3,199.8 882.8,201.6C893.3,203.4 925.4,216.8 933.9,201.6C942.4,186.4 947.8,125.6 933.9,110.4C919.9,95.2 864.2,100.2 850.2,110.4C836.3,120.5 848.4,159.6 850.2,171.2Z" fill="#EAB569" stroke="#6b6b6b" stroke-width=".5" stroke-opacity=".6"/><path d="M272.4,99.5C304.8,106.9 275.0,114.7 272.4,122.3C269.9,129.9 262.2,137.4 257.2,145.1C252.3,152.9 247.1,161.1 242.7,169.0C238.2,177.0 234.0,184.6 230.5,192.9C226.9,201.3 224.2,210.3 221.4,219.0C218.6,227.7 215.8,236.8 213.8,245.1C211.8,253.4 210.5,260.7 209.4,269.0C208.3,277.3 207.5,286.4 207.2,295.1C207.0,303.8 207.5,312.8 207.9,321.1C208.3,329.5 209.5,338.2 209.4,345.0C209.3,351.9 208.9,357.7 207.2,362.4C205.6,367.1 203.4,370.6 199.6,373.3C195.8,376.0 190.6,377.6 184.4,378.7C178.3,379.9 169.6,379.9 162.7,380.2C155.8,380.6 148.6,381.0 143.1,380.9C137.7,380.8 135.5,378.9 130.1,379.8C124.7,380.7 119.2,389.6 110.6,386.3C101.9,383.1 83.4,411.7 78.0,360.3C72.5,308.8 45.6,121.2 78.0,77.8C110.4,34.3 240.0,92.1 272.4,99.5Z" fill="#A0A0A0" stroke="#6b6b6b" stroke-width=".5" stroke-opacity=".6"/><path d="M238.8,99.5C265.6,105.7 240.6,109.3 238.8,114.7C236.9,120.2 231.9,125.9 227.9,132.1C223.9,138.3 219.2,144.8 214.9,151.7C210.5,158.5 205.8,165.8 201.8,173.4C197.8,181.0 194.0,189.3 191.0,197.3C187.9,205.3 185.5,213.2 183.3,221.2C181.2,229.2 179.5,237.1 177.9,245.1C176.3,253.1 174.8,261.4 173.6,269.0C172.3,276.6 171.6,284.2 170.3,290.7C169.0,297.2 168.0,302.7 166.0,308.1C164.0,313.5 161.4,318.6 158.4,323.3C155.3,328.0 151.3,332.5 147.5,336.4C143.7,340.2 139.0,343.5 135.5,346.1C132.1,348.7 131.0,350.0 126.9,352.0C122.7,354.0 118.7,360.3 110.6,358.1C102.4,355.8 83.4,385.2 78.0,338.5C72.5,291.8 51.2,117.6 78.0,77.8C104.8,37.9 212.0,93.4 238.8,99.5Z" fill="#C3CEEB" stroke="#6b6b6b" stroke-width=".5" stroke-opacity=".6"/><path d="M168.1,88.6C183.0,92.6 168.7,95.2 167.1,101.7C165.4,108.2 161.1,119.8 158.4,127.8C155.6,135.7 153.1,142.2 150.8,149.5C148.4,156.7 146.0,164.0 144.2,171.2C142.4,178.5 141.0,185.3 139.9,192.9C138.8,200.5 138.4,209.2 137.7,216.8C137.0,224.5 136.4,231.3 135.5,238.6C134.6,245.8 133.4,253.4 132.3,260.3C131.2,267.2 130.3,274.1 129.0,279.9C127.8,285.7 126.3,291.1 124.7,295.1C123.1,299.1 122.3,301.6 119.2,303.8C116.2,305.9 113.1,309.6 106.2,308.1C99.3,306.7 82.7,333.5 78.0,295.1C73.3,256.7 62.9,112.2 78.0,77.8C93.0,43.4 153.3,84.7 168.1,88.6Z" fill="#A8C6E6" stroke="#6b6b6b" stroke-width=".5" stroke-opacity=".6"/><path d="M479.9,416.3C485.4,415.6 491.2,417.3 495.1,419.6C499.1,422.0 502.6,425.4 503.8,430.5C505.1,435.5 503.8,443.1 502.8,450.0C501.7,456.9 499.7,464.5 497.3,471.8C495.0,479.0 491.9,486.2 488.6,493.5C485.4,500.7 480.7,508.0 477.8,515.2C474.9,522.5 472.5,529.7 471.2,536.9C470.0,544.2 470.0,551.8 470.2,558.7C470.3,565.6 471.4,572.1 472.3,578.2C473.2,584.4 477.9,589.5 475.6,595.6C473.2,601.8 475.6,619.9 458.2,615.2C440.8,610.5 391.2,586.2 371.3,567.4C351.4,548.5 343.1,515.2 338.7,502.2C334.4,489.1 342.0,491.9 345.2,489.1C348.5,486.4 353.9,487.0 358.3,485.9C362.6,484.8 365.9,484.2 371.3,482.6C376.7,481.0 384.3,479.0 390.9,476.1C397.4,473.2 404.3,469.2 410.4,465.2C416.6,461.3 422.0,456.9 427.8,452.2C433.6,447.5 439.4,441.7 445.2,437.0C451.0,432.3 456.8,427.4 462.6,424.0C468.4,420.5 474.5,417.1 479.9,416.3Z" fill="#A0A0A0" stroke="#6b6b6b" stroke-width=".5" stroke-opacity=".6"/><path d="M626.4,376.2C636.2,375.8 653.2,378.0 665.5,380.5C677.8,383.0 690.5,387.4 700.3,391.4C710.1,395.3 718.0,399.3 724.2,404.4C730.3,409.5 735.1,415.6 737.2,421.8C739.4,427.9 739.0,435.2 737.2,441.3C735.4,447.5 731.4,453.6 726.4,458.7C721.3,463.8 714.4,468.3 706.8,471.8C699.2,475.2 689.8,477.9 680.7,479.4C671.7,480.8 661.2,481.7 652.5,480.4C643.8,479.2 635.8,475.7 628.6,471.8C621.3,467.8 614.5,462.3 609.0,456.5C603.6,450.8 599.3,443.9 596.0,437.0C592.7,430.1 589.8,422.1 589.5,415.3C589.1,408.4 590.9,401.1 593.8,395.7C596.7,390.3 601.4,385.9 606.9,382.7C612.3,379.4 616.6,376.5 626.4,376.2Z" fill="#A0A0A0" stroke="#6b6b6b" stroke-width=".5" stroke-opacity=".6"/><path d="M502.6,550.0C505.8,544.2 507.6,538.0 511.3,532.6C514.9,527.2 519.2,521.7 524.3,517.4C529.4,513.0 535.5,509.2 541.7,506.5C547.8,503.8 554.3,502.2 561.2,501.1C568.1,500.0 575.7,499.5 583.0,500.0C590.2,500.5 598.2,502.2 604.7,504.3C611.2,506.5 617.4,510.1 622.1,513.0C626.8,515.9 629.7,518.5 632.9,521.7C636.2,525.0 639.1,528.6 641.6,532.6C644.2,536.6 651.4,539.8 648.1,545.6C644.9,551.4 644.5,561.9 622.1,567.4C599.6,572.8 535.2,578.2 513.4,578.2C491.7,578.2 493.5,572.1 491.7,567.4C489.9,562.7 499.3,555.8 502.6,550.0Z" fill="#E58F4A" stroke="#6b6b6b" stroke-width=".5" stroke-opacity=".6"/><path d="M726.4,507.4L728.5,506.5L745.9,500.0L763.3,493.0L780.7,489.1L839.4,489.1L839.4,610.8L726.4,610.8Z" fill="#E58F4A" stroke="#6b6b6b" stroke-width=".5" stroke-opacity=".6"/></g><use href="#uswater" fill="#fff" stroke="#888" stroke-width=".4"/><use href="#uslakes" fill="none" stroke="#777" stroke-width=".7"/><use href="#usbord" fill="none" stroke="#444" stroke-width=".6" stroke-opacity=".75"/><use href="#usout" fill="none" stroke="#666" stroke-width=".9" stroke-linejoin="round"/><path d="M22.6,449.8 H207.5 L353.8,610.8 H617.3 V773.4 H22.6Z M22.6,698.9 H353.8 M353.8,610.8 V773.4" fill="none" stroke="#333" stroke-width="1.3"/><g clip-path="url(#ak)"><rect x="20" y="445" width="340" height="260" fill="#C3CEEB"/><path d="M102.4,488.4C107.0,492.8 109.1,496.6 114.7,499.2C120.4,501.9 128.6,504.2 136.4,504.5C144.1,504.7 152.8,500.6 161.1,500.8C169.3,500.9 178.6,503.5 185.8,505.4C193.0,507.4 198.9,512.5 204.4,512.5C209.8,512.5 215.3,509.9 218.3,505.4C221.2,500.9 221.5,493.3 222.3,485.3C223.0,477.3 236.2,464.2 222.9,457.5C209.6,450.8 165.2,442.6 142.5,445.2C119.9,447.7 93.6,465.8 86.9,473.0C80.2,480.2 97.7,484.0 102.4,488.4Z" fill="#A0A0A0" stroke="#6b6b6b" stroke-width=".4" stroke-opacity=".6"/><path d="M74.6,615.1C80.2,609.4 77.1,613.1 80.7,608.9C84.3,604.8 90.0,595.8 96.2,590.4C102.4,585.0 110.1,580.3 117.8,576.5C125.5,572.6 134.3,569.0 142.5,567.2C150.8,565.4 159.0,564.9 167.3,565.7C175.5,566.4 184.3,568.8 192.0,571.9C199.7,574.9 206.9,579.1 213.6,584.2C220.3,589.4 227.6,597.9 232.2,602.8C236.7,607.6 239.8,609.4 240.8,613.6C241.8,617.7 247.5,616.4 238.3,627.5C229.2,638.5 215.2,667.1 185.8,680.0C156.5,692.9 85.4,710.9 62.2,704.7C39.0,698.6 44.7,657.9 46.7,642.9C48.8,628.0 68.9,620.8 74.6,615.1Z" fill="#A0A0A0" stroke="#6b6b6b" stroke-width=".4" stroke-opacity=".6"/><path d="M108.6,630.6C111.7,620.3 113.7,617.2 117.8,612.0C121.9,606.9 127.1,603.0 133.3,599.7C139.5,596.3 147.7,593.2 154.9,591.9C162.1,590.7 170.4,590.9 176.5,591.9C182.7,593.0 187.9,595.3 192.0,598.1C196.1,601.0 199.2,604.0 201.3,608.9C203.3,613.8 206.9,616.7 204.4,627.5C201.8,638.3 198.2,663.5 185.8,673.8C173.4,684.1 143.6,687.2 130.2,689.3C116.8,691.3 110.7,688.8 105.5,686.2C100.2,683.6 98.1,683.1 98.7,673.8C99.2,664.6 105.4,640.9 108.6,630.6Z" fill="#EAB569" stroke="#6b6b6b" stroke-width=".4" stroke-opacity=".6"/><path d="M124.0,639.8C126.1,633.4 126.6,629.0 130.2,624.4C133.8,619.8 140.0,614.9 145.6,612.0C151.3,609.2 158.8,607.4 164.2,607.4C169.6,607.4 174.9,609.2 178.1,612.0C181.3,614.9 183.6,619.2 183.3,624.4C183.1,629.5 178.2,635.2 176.5,642.9C174.9,650.7 180.7,665.1 173.4,670.7C166.2,676.4 141.8,676.4 133.3,676.9C124.8,677.4 125.0,676.1 122.5,673.8C119.9,671.5 117.6,668.7 117.8,663.0C118.1,657.3 121.9,646.3 124.0,639.8Z" fill="#E58F4A" stroke="#6b6b6b" stroke-width=".4" stroke-opacity=".6"/></g><path d="M167.0,638.8L170.4,645.5L167.0,655.5L160.3,662.2L152.0,665.5L149.5,660.5L153.7,652.2L160.3,643.8Z" fill="#E58F4A"/><path d="M61.8,607.1L68.5,604.6L73.5,607.9L71.8,612.1L65.1,611.2Z" fill="#C3CEEB"/><path d="M43.4,551.9L47.6,550.3L53.4,556.1L61.8,560.3L60.1,562.8L54.3,564.5L50.1,558.6L45.1,556.1Z" fill="#C3CEEB"/><use href="#akout" fill="none" stroke="#777" stroke-width=".6"/><path d="M269.3,616.9L281.1,624.2L292.9,634.5L303.2,644.9L313.6,653.7L323.9,662.6" fill="none" stroke="#4a4a4a" stroke-width=".9" stroke-opacity=".85"/><path d="M281.1,619.8L294.4,628.6L304.7,639.0L316.5,649.3L325.4,658.1" fill="none" stroke="#4a4a4a" stroke-width=".9" stroke-opacity=".85"/><path d="M295.9,622.8L307.7,631.6L318.0,640.4L328.3,649.3L335.7,656.7" fill="none" stroke="#4a4a4a" stroke-width=".9" stroke-opacity=".85"/><path d="M310.6,627.2L322.4,636.0L332.7,644.9L340.1,652.2" fill="none" stroke="#4a4a4a" stroke-width=".9" stroke-opacity=".85"/><path d="M285.6,608.0L295.9,615.4L307.7,624.2L319.5,634.5" fill="none" stroke="#4a4a4a" stroke-width=".9" stroke-opacity=".85"/><path d="M290.0,628.6L295.9,624.2" fill="none" stroke="#4a4a4a" stroke-width=".9" stroke-opacity=".85"/><path d="M303.2,641.9L310.6,634.5" fill="none" stroke="#4a4a4a" stroke-width=".9" stroke-opacity=".85"/><path d="M316.5,650.8L323.9,641.9" fill="none" stroke="#4a4a4a" stroke-width=".9" stroke-opacity=".85"/><path d="M326.8,659.6L334.2,650.8" fill="none" stroke="#4a4a4a" stroke-width=".9" stroke-opacity=".85"/><path d="M263.4,612.4L272.3,613.9L276.7,618.3" fill="none" stroke="#4a4a4a" stroke-width=".9" stroke-opacity=".85"/><path d="M298.8,633.1L303.2,627.2" fill="none" stroke="#4a4a4a" stroke-width=".9" stroke-opacity=".85"/><path d="M310.6,647.8L316.5,640.4" fill="none" stroke="#4a4a4a" stroke-width=".9" stroke-opacity=".85"/><path d="M322.4,656.7L329.8,649.3" fill="none" stroke="#4a4a4a" stroke-width=".9" stroke-opacity=".85"/><path d="M332.7,662.6L338.6,656.7" fill="none" stroke="#4a4a4a" stroke-width=".9" stroke-opacity=".85"/><path d="M290.0,618.3L287.0,624.2" fill="none" stroke="#4a4a4a" stroke-width=".9" stroke-opacity=".85"/><path d="M301.8,624.2L298.8,630.1" fill="none" stroke="#4a4a4a" stroke-width=".9" stroke-opacity=".85"/><path d="M315.0,633.1L312.1,639.0" fill="none" stroke="#4a4a4a" stroke-width=".9" stroke-opacity=".85"/><path d="M326.8,641.9L323.9,647.8" fill="none" stroke="#4a4a4a" stroke-width=".9" stroke-opacity=".85"/><path d="M301.8,636.8L310.6,646.3L320.2,656.7" fill="none" stroke="#fff" stroke-width="1.1"/><path d="M290.0,624.2L298.8,631.6" fill="none" stroke="#fff" stroke-width="1.1"/><path d="M319.5,639.0L326.8,646.3L332.7,653.7" fill="none" stroke="#fff" stroke-width="1.1"/><path d="M294.4,616.9L304.7,625.7L313.6,631.6" fill="none" stroke="#fff" stroke-width="1.1"/><path d="M310.6,641.9L318.0,649.3" fill="none" stroke="#fff" stroke-width="1.1"/><path d="M366.5,639.7L368.5,635.8L371.7,632.5L374.3,629.9L375.6,631.9L375.0,635.1L371.7,637.7L369.1,640.3Z" fill="#E58F4A" stroke="#666" stroke-width=".5" stroke-linejoin="round"/><path d="M386.3,628.6L389.3,623.4L395.2,620.1L404.3,620.1L406.9,623.4L407.6,628.6L405.0,633.8L401.1,636.2L393.9,634.5L388.7,631.9Z" fill="#E58F4A" stroke="#666" stroke-width=".5" stroke-linejoin="round"/><path d="M452.6,648.2L457.8,646.2L463.6,641.0L466.9,644.3L470.8,649.5L474.7,653.4L478.0,659.2L473.4,660.5L468.2,658.6L463.0,659.2L459.1,660.5L455.8,654.7Z" fill="#E58F4A" stroke="#666" stroke-width=".5" stroke-linejoin="round"/><path d="M494.0,667.7L495.6,663.2L503.4,663.8L512.5,664.5L518.8,664.1L517.7,667.1L511.9,669.0L502.1,667.7Z" fill="#E58F4A" stroke="#666" stroke-width=".5" stroke-linejoin="round"/><path d="M504.7,676.8L508.6,675.3L513.8,676.8L515.1,680.8L511.9,683.6L508.0,682.1Z" fill="#E58F4A" stroke="#666" stroke-width=".5" stroke-linejoin="round"/><path d="M520.3,674.2L523.0,670.6L526.9,671.6L530.8,674.9L537.3,673.6L545.1,676.2L550.3,680.8L549.7,684.7L543.8,687.9L537.3,690.1L532.7,688.6L530.8,683.4L525.6,679.5L521.6,677.5Z" fill="#E58F4A" stroke="#666" stroke-width=".5" stroke-linejoin="round"/><path d="M521.0,693.1L524.9,689.6L527.5,690.5L526.2,693.1Z" fill="#E58F4A" stroke="#666" stroke-width=".5" stroke-linejoin="round"/><path d="M554.9,708.1L557.5,703.2L566.0,707.5L573.8,710.7L582.9,714.7L590.7,721.2L594.7,726.4L597.3,731.6L603.8,735.5L598.6,740.7L589.4,747.2L580.3,753.8L573.8,760.3L567.3,764.2L559.5,759.0L556.2,752.5L557.5,743.3L553.6,735.5L549.7,727.7L552.9,722.5L556.2,717.3Z" fill="#EAB569" stroke="#666" stroke-width=".5" stroke-linejoin="round"/><path d="M393.9,620.8L404.3,620.1L406.9,624.0L405.6,626.7L397.8,624.0Z" fill="#DD5B30" stroke="#666" stroke-width=".3" stroke-linejoin="round"/><path d="M453.9,648.2L457.8,646.2L463.6,641.3L466.9,644.5L470.2,649.5L468.8,652.7L461.7,650.8Z" fill="#DD5B30" stroke="#666" stroke-width=".3" stroke-linejoin="round"/><path d="M554.9,708.1L557.5,703.2L566.0,707.5L573.8,710.7L582.9,714.7L550.3,727.3L552.9,722.5L556.2,717.3Z" fill="#E58F4A" stroke="#666" stroke-width=".3" stroke-linejoin="round"/><ellipse cx="33.0" cy="708.3" rx="2.0" ry="1.1" transform="rotate(20 33.0 708.3)" fill="#888" stroke="#555" stroke-width=".3"/><ellipse cx="37.7" cy="711.5" rx="2.6" ry="1.6" transform="rotate(20 37.7 711.5)" fill="#888" stroke="#555" stroke-width=".3"/><ellipse cx="44.0" cy="724.1" rx="3.2" ry="1.1" transform="rotate(20 44.0 724.1)" fill="#888" stroke="#555" stroke-width=".3"/><ellipse cx="50.3" cy="725.6" rx="2.0" ry="1.6" transform="rotate(20 50.3 725.6)" fill="#888" stroke="#555" stroke-width=".3"/><ellipse cx="75.5" cy="731.9" rx="2.6" ry="1.1" transform="rotate(20 75.5 731.9)" fill="#888" stroke="#555" stroke-width=".3"/><ellipse cx="94.3" cy="744.5" rx="3.2" ry="1.6" transform="rotate(20 94.3 744.5)" fill="#888" stroke="#555" stroke-width=".3"/><ellipse cx="103.8" cy="747.6" rx="2.0" ry="1.1" transform="rotate(20 103.8 747.6)" fill="#888" stroke="#555" stroke-width=".3"/><ellipse cx="110.1" cy="755.5" rx="2.6" ry="1.6" transform="rotate(20 110.1 755.5)" fill="#888" stroke="#555" stroke-width=".3"/><ellipse cx="119.5" cy="763.4" rx="3.2" ry="1.1" transform="rotate(20 119.5 763.4)" fill="#888" stroke="#555" stroke-width=".3"/><ellipse cx="125.8" cy="750.8" rx="2.0" ry="1.6" transform="rotate(20 125.8 750.8)" fill="#EAB569" stroke="#555" stroke-width=".3"/><ellipse cx="141.5" cy="769.0" rx="2.6" ry="1.1" transform="rotate(20 141.5 769.0)" fill="#EAB569" stroke="#555" stroke-width=".3"/><ellipse cx="147.8" cy="766.5" rx="3.2" ry="1.6" transform="rotate(20 147.8 766.5)" fill="#EAB569" stroke="#555" stroke-width=".3"/><ellipse cx="176.1" cy="764.0" rx="2.0" ry="1.1" transform="rotate(20 176.1 764.0)" fill="#EAB569" stroke="#555" stroke-width=".3"/><ellipse cx="185.6" cy="760.2" rx="2.6" ry="1.6" transform="rotate(20 185.6 760.2)" fill="#EAB569" stroke="#555" stroke-width=".3"/><ellipse cx="207.6" cy="757.1" rx="3.2" ry="1.1" transform="rotate(20 207.6 757.1)" fill="#EAB569" stroke="#555" stroke-width=".3"/><ellipse cx="217.0" cy="758.6" rx="2.0" ry="1.6" transform="rotate(20 217.0 758.6)" fill="#EAB569" stroke="#555" stroke-width=".3"/><ellipse cx="235.9" cy="755.5" rx="2.6" ry="1.1" transform="rotate(20 235.9 755.5)" fill="#EAB569" stroke="#555" stroke-width=".3"/><ellipse cx="261.0" cy="749.2" rx="3.2" ry="1.6" transform="rotate(20 261.0 749.2)" fill="#EAB569" stroke="#555" stroke-width=".3"/><ellipse cx="273.6" cy="744.5" rx="2.0" ry="1.1" transform="rotate(-30 273.6 744.5)" fill="#EAB569" stroke="#555" stroke-width=".3"/><ellipse cx="284.6" cy="739.8" rx="2.6" ry="1.6" transform="rotate(-30 284.6 739.8)" fill="#EAB569" stroke="#555" stroke-width=".3"/><path d="M283.0,745.6L291.2,735.7L301.0,733.3L310.9,727.5L314.1,719.3L322.4,717.7L325.6,722.6L317.4,729.2L307.6,734.1L297.7,739.0L287.9,745.6Z" fill="#A0A0A0" stroke="#555" stroke-width=".4"/><path d="M325.6,721.0L332.2,714.4L342.0,712.0" fill="none" stroke="#666" stroke-width=".9"/><text x="783.7" y="624.0" text-anchor="middle" style="font-size:12.8px;font-weight:bold" fill="#111">Probability</text><text x="783.7" y="639.0" text-anchor="middle" style="font-size:12.9px;font-weight:bold" fill="#111">(Percent Chance)</text><text x="722.8" y="653.2" text-anchor="middle" style="font-size:9.6px;font-weight:bold" fill="#111">Above Normal</text><text x="845.6" y="653.2" text-anchor="middle" style="font-size:9.6px;font-weight:bold" fill="#111">Below Normal</text><rect x="689.3" y="665.2" width="23.1" height="10" fill="#EAB569" stroke="#000" stroke-opacity=".22" stroke-width=".6"/><rect x="857.3" y="665.2" width="23.1" height="10" fill="#C3CEEB" stroke="#000" stroke-opacity=".22" stroke-width=".6"/><text x="717.4" y="673.5" style="font-size:9.2px" fill="#444">33-40%</text><text x="852" y="673.5" text-anchor="end" style="font-size:9.2px" fill="#444">33-40%</text><rect x="689.3" y="681.0" width="23.1" height="10" fill="#E58F4A" stroke="#000" stroke-opacity=".22" stroke-width=".6"/><rect x="857.3" y="681.0" width="23.1" height="10" fill="#A8C6E6" stroke="#000" stroke-opacity=".22" stroke-width=".6"/><text x="717.4" y="689.3" style="font-size:9.2px" fill="#444">40-50%</text><text x="852" y="689.3" text-anchor="end" style="font-size:9.2px" fill="#444">40-50%</text><rect x="689.3" y="696.8" width="23.1" height="10" fill="#DD5B30" stroke="#000" stroke-opacity=".22" stroke-width=".6"/><rect x="857.3" y="696.8" width="23.1" height="10" fill="#7CB6E4" stroke="#000" stroke-opacity=".22" stroke-width=".6"/><text x="717.4" y="705.1" style="font-size:9.2px" fill="#444">50-60%</text><text x="852" y="705.1" text-anchor="end" style="font-size:9.2px" fill="#444">50-60%</text><rect x="689.3" y="712.6" width="23.1" height="10" fill="#CB2B27" stroke="#000" stroke-opacity=".22" stroke-width=".6"/><rect x="857.3" y="712.6" width="23.1" height="10" fill="#38A0DB" stroke="#000" stroke-opacity=".22" stroke-width=".6"/><text x="717.4" y="720.9" style="font-size:9.2px" fill="#444">60-70%</text><text x="852" y="720.9" text-anchor="end" style="font-size:9.2px" fill="#444">60-70%</text><rect x="689.3" y="728.4" width="23.1" height="10" fill="#D22E4C" stroke="#000" stroke-opacity=".22" stroke-width=".6"/><rect x="857.3" y="728.4" width="23.1" height="10" fill="#0060AA" stroke="#000" stroke-opacity=".22" stroke-width=".6"/><text x="717.4" y="736.7" style="font-size:9.2px" fill="#444">70-80%</text><text x="852" y="736.7" text-anchor="end" style="font-size:9.2px" fill="#444">70-80%</text><rect x="689.3" y="744.2" width="23.1" height="10" fill="#8B2A33" stroke="#000" stroke-opacity=".22" stroke-width=".6"/><rect x="857.3" y="744.2" width="23.1" height="10" fill="#2D1F7D" stroke="#000" stroke-opacity=".22" stroke-width=".6"/><text x="717.4" y="752.5" style="font-size:9.2px" fill="#444">80-90%</text><text x="852" y="752.5" text-anchor="end" style="font-size:9.2px" fill="#444">80-90%</text><rect x="689.3" y="760.0" width="23.1" height="10" fill="#641E25" stroke="#000" stroke-opacity=".22" stroke-width=".6"/><rect x="857.3" y="760.0" width="23.1" height="10" fill="#211855" stroke="#000" stroke-opacity=".22" stroke-width=".6"/><text x="717.4" y="768.3" style="font-size:9.2px" fill="#444">90-100%</text><text x="852" y="768.3" text-anchor="end" style="font-size:9.2px" fill="#444">90-100%</text><text x="783.7" y="698.3" text-anchor="middle" style="font-size:9.9px;font-weight:bold" fill="#111">Near</text><text x="783.7" y="709.3" text-anchor="middle" style="font-size:9.9px;font-weight:bold" fill="#111">Normal</text><rect x="772.4" y="720.3" width="23.1" height="10" fill="#A0A0A0" stroke="#000" stroke-opacity=".22" stroke-width=".6"/><text x="647.6" y="675" text-anchor="middle" style="font-size:11.5px" fill="#3c3c3c">Leaning</text><text x="647.6" y="688.4" text-anchor="middle" style="font-size:11.5px" fill="#3c3c3c">Above</text><text x="647.6" y="729.6" text-anchor="middle" style="font-size:11.5px" fill="#3c3c3c">Likely</text><text x="647.6" y="742.8" text-anchor="middle" style="font-size:11.5px" fill="#3c3c3c">Above</text><text x="923.3" y="675" text-anchor="middle" style="font-size:11.5px" fill="#3c3c3c">Leaning</text><text x="923.3" y="688.4" text-anchor="middle" style="font-size:11.5px" fill="#3c3c3c">Below</text><text x="923.3" y="729.6" text-anchor="middle" style="font-size:11.5px" fill="#3c3c3c">Likely</text><text x="923.3" y="742.8" text-anchor="middle" style="font-size:11.5px" fill="#3c3c3c">Below</text><path d="M681.5,664.5 C675.75,664.5 674.6,674.2 670,678.2 C674.6,682.2 675.75,692 681.5,692" fill="none" stroke="#3a3a3a" stroke-width=".9"/><path d="M685,697.5 C677.5,697.5 676.0,730 670,734 C676.0,738 677.5,770.5 685,770.5" fill="none" stroke="#3a3a3a" stroke-width=".9"/><path d="M884,664.5 C890.0,664.5 891.2,674.2 896,678.2 C891.2,682.2 890.0,692 884,692" fill="none" stroke="#3a3a3a" stroke-width=".9"/><path d="M884.5,697 C890.75,697 892.0,730 897,734 C892.0,738 890.75,770.5 884.5,770.5" fill="none" stroke="#3a3a3a" stroke-width=".9"/><path d="M450.4,642.8L450.4,682.1" stroke="#222" stroke-width=".8"/><path d="M265.7,736.1L283.4,743.0" stroke="#222" stroke-width=".8"/><path d="M177.3,756.8L226.4,760.7" stroke="#222" stroke-width=".8"/><text x="122.2" y="252.7" text-anchor="middle" style="font-size:21.027807801906256px;font-weight:bold" fill="#111" stroke="#fff" stroke-width="3.0" stroke-linejoin="round" paint-order="stroke">Below</text><text x="190.0" y="260.5" text-anchor="middle" style="font-size:21.027807801906256px;font-weight:bold" fill="#111" stroke="#fff" stroke-width="3.0" stroke-linejoin="round" paint-order="stroke">Near</text><text x="190.0" y="282.2" text-anchor="middle" style="font-size:21.027807801906256px;font-weight:bold" fill="#111" stroke="#fff" stroke-width="3.0" stroke-linejoin="round" paint-order="stroke">Normal</text><text x="454.4" y="251.7" text-anchor="middle" style="font-size:21.027807801906256px;font-weight:bold" fill="#111" stroke="#fff" stroke-width="3.0" stroke-linejoin="round" paint-order="stroke">Above</text><text x="665.6" y="424.6" text-anchor="middle" style="font-size:21.027807801906256px;font-weight:bold" fill="#111" stroke="#fff" stroke-width="3.0" stroke-linejoin="round" paint-order="stroke">Near</text><text x="665.6" y="447.2" text-anchor="middle" style="font-size:21.027807801906256px;font-weight:bold" fill="#111" stroke="#fff" stroke-width="3.0" stroke-linejoin="round" paint-order="stroke">Normal</text><text x="443.5" y="486.5" text-anchor="middle" style="font-size:21.027807801906256px;font-weight:bold" fill="#111" stroke="#fff" stroke-width="3.0" stroke-linejoin="round" paint-order="stroke">Near</text><text x="443.5" y="510.1" text-anchor="middle" style="font-size:21.027807801906256px;font-weight:bold" fill="#111" stroke="#fff" stroke-width="3.0" stroke-linejoin="round" paint-order="stroke">Normal</text><text x="570.3" y="520.0" text-anchor="middle" style="font-size:21.027807801906256px;font-weight:bold" fill="#111" stroke="#fff" stroke-width="3.0" stroke-linejoin="round" paint-order="stroke">Above</text><text x="769.8" y="549.4" text-anchor="middle" style="font-size:21.027807801906256px;font-weight:bold" fill="#111" stroke="#fff" stroke-width="3.0" stroke-linejoin="round" paint-order="stroke">Above</text><text x="165.5" y="479.7" text-anchor="middle" style="font-size:15.721725459369164px;font-weight:bold" fill="#111" stroke="#fff" stroke-width="2.4" stroke-linejoin="round" paint-order="stroke">Near</text><text x="165.5" y="497.4" text-anchor="middle" style="font-size:15.721725459369164px;font-weight:bold" fill="#111" stroke="#fff" stroke-width="2.4" stroke-linejoin="round" paint-order="stroke">Normal</text><text x="165.5" y="572.0" text-anchor="middle" style="font-size:15.721725459369164px;font-weight:bold" fill="#111" stroke="#fff" stroke-width="2.4" stroke-linejoin="round" paint-order="stroke">Near</text><text x="165.5" y="589.7" text-anchor="middle" style="font-size:15.721725459369164px;font-weight:bold" fill="#111" stroke="#fff" stroke-width="2.4" stroke-linejoin="round" paint-order="stroke">Normal</text><text x="143.9" y="637.9" text-anchor="middle" style="font-size:16.606072516458678px;font-weight:bold" fill="#111" stroke="#fff" stroke-width="2.4" stroke-linejoin="round" paint-order="stroke">Above</text><text x="325.6" y="650.6" text-anchor="middle" style="font-size:16.606072516458678px;font-weight:bold" fill="#111" stroke="#fff" stroke-width="2.4" stroke-linejoin="round" paint-order="stroke">Below</text><text x="428.8" y="687.0" text-anchor="middle" style="font-size:11.88955487864793px;font-weight:bold" fill="#111">Above</text><text x="191.0" y="711.6" text-anchor="middle" style="font-size:13.265205856342734px;font-weight:bold" fill="#111">Aleutian Islands</text><text x="306.0" y="714.5" text-anchor="middle" style="font-size:10.906947037437359px;font-weight:bold" fill="#111">Near</text><text x="306.0" y="727.3" text-anchor="middle" style="font-size:10.906947037437359px;font-weight:bold" fill="#111">Normal</text><text x="243.1" y="739.1" text-anchor="middle" style="font-size:11.88955487864793px;font-weight:bold" fill="#111">Above</text><text x="157.6" y="759.7" text-anchor="middle" style="font-size:11.88955487864793px;font-weight:bold" fill="#111">Above</text></g><g transform="matrix(1.0 0 0 1.0 0.0 823.5)"><g transform="translate(0 -1.3)"><text x="181" y="76.3" textLength="605" lengthAdjust="spacingAndGlyphs" style="font-size:44.4px" fill="#000">6-10 Day Precipitation Outlook</text><text x="404" y="109.4" style="font-size:18.4px;font-weight:bold" fill="#111">Valid:</text><text x="462.5" y="109.4" style="font-size:18.4px" fill="#222">June 9 - 13, 2025</text><text x="404" y="129.6" style="font-size:18.4px;font-weight:bold" fill="#111">Issued:</text><text x="479" y="129.6" style="font-size:18.4px" fill="#222">June 3, 2025</text><use href="#doc" x="58.8" y="62.4"/><use href="#noaa" x="908.4" y="62.9"/></g><g clip-path="url(#us)"><rect x="80" y="70" width="880" height="560" fill="#B3DCAD"/><path d="M541.9,101.1C541.9,116.6 541.7,139.0 541.9,150.9C542.1,162.7 542.1,165.6 543.0,172.5C543.9,179.3 545.3,185.4 547.3,191.9C549.3,198.4 551.4,204.9 554.9,211.4C558.3,217.9 562.8,225.1 567.8,230.9C572.9,236.6 578.6,241.7 585.1,246.0C591.6,250.3 599.5,253.9 606.8,256.8C614.0,259.7 622.6,261.1 628.4,263.3C634.1,265.4 636.7,267.4 641.4,269.8C646.0,272.1 650.7,274.8 656.5,277.3C662.3,279.9 669.8,281.8 675.9,284.9C682.1,288.0 688.2,291.8 693.2,295.7C698.3,299.7 702.6,304.0 706.2,308.7C709.8,313.4 713.1,318.8 714.9,323.8C716.7,328.9 717.4,333.9 717.0,339.0C716.7,344.0 715.2,349.4 712.7,354.1C710.2,358.8 706.6,363.1 701.9,367.1C697.2,371.0 691.1,374.6 684.6,377.9C678.1,381.1 670.9,384.0 663.0,386.5C655.0,389.0 645.7,391.0 637.0,393.0C628.4,395.0 619.7,396.6 611.1,398.4C602.4,400.2 593.8,402.2 585.1,403.8C576.5,405.4 567.8,407.1 559.2,408.1C550.5,409.2 541.2,410.3 533.2,410.3C525.3,410.3 518.5,409.6 511.6,408.1C504.8,406.7 498.3,405.3 492.2,401.7C486.0,398.1 479.9,392.7 474.9,386.5C469.8,380.4 465.9,372.5 461.9,364.9C457.9,357.3 455.0,349.0 451.1,341.1C447.1,333.2 442.8,324.9 438.1,317.3C433.4,309.8 428.4,302.6 423.0,295.7C417.6,288.9 411.4,281.7 405.7,276.3C399.9,270.9 394.5,266.2 388.4,263.3C382.3,260.4 375.4,259.3 368.9,259.0C362.4,258.6 355.6,259.3 349.5,261.1C343.3,262.9 337.6,265.4 332.2,269.8C326.8,274.1 321.0,279.9 317.0,287.1C313.1,294.3 310.2,304.4 308.4,313.0C306.6,321.7 306.6,329.2 306.2,339.0C305.9,348.7 305.9,360.6 306.2,371.4C306.6,382.2 307.5,400.0 308.4,403.8C309.3,407.7 310.5,390.5 311.6,394.4C312.7,398.2 314.0,416.0 314.9,426.8C315.8,437.6 316.6,450.2 317.0,459.2C317.5,468.2 319.3,473.6 317.5,480.9C315.7,488.1 344.1,498.9 306.2,502.5C268.3,506.1 136.8,531.3 90.0,502.5C43.2,473.6 35.9,400.0 25.1,329.5C14.3,259.0 25.1,124.8 25.1,79.5C25.1,34.2 -61.0,61.5 25.1,57.9C111.3,54.3 455.8,50.7 541.9,57.9C628.0,65.1 541.9,85.6 541.9,101.1Z" fill="#A0A0A0" stroke="#6b6b6b" stroke-width=".5" stroke-opacity=".6"/><path d="M855.4,174.6C856.8,186.9 861.5,181.8 864.1,185.4C866.6,189.0 868.0,192.3 870.5,196.3C873.1,200.2 869.3,207.1 879.2,209.2C889.1,211.4 921.5,225.4 930.0,209.2C938.5,193.0 942.4,128.1 930.0,111.9C917.6,95.7 867.8,101.5 855.4,111.9C843.0,122.4 854.0,162.4 855.4,174.6Z" fill="#A0A0A0" stroke="#6b6b6b" stroke-width=".5" stroke-opacity=".6"/><path d="M213.2,90.3C235.6,95.0 212.9,101.5 213.2,107.6C213.6,113.7 215.8,120.2 215.4,127.1C215.0,133.9 214.0,141.5 211.1,148.7C208.2,155.9 203.2,163.5 198.1,170.3C193.1,177.2 187.3,183.6 180.8,189.8C174.3,195.9 166.4,202.4 159.2,207.1C152.0,211.8 144.4,215.2 137.6,217.9C130.7,220.6 126.0,221.1 118.1,223.3C110.2,225.4 96.5,254.8 90.0,230.9C83.5,206.9 58.6,102.9 79.2,79.5C99.7,56.1 190.9,85.6 213.2,90.3Z" fill="#F4D592" stroke="#6b6b6b" stroke-width=".5" stroke-opacity=".6"/><path d="M179.7,90.3C196.5,93.9 179.4,96.4 179.7,101.1C180.1,105.8 181.7,112.7 181.9,118.4C182.1,124.2 182.1,130.0 180.8,135.7C179.5,141.5 177.6,148.0 174.3,153.0C171.1,158.1 166.0,162.6 161.4,166.0C156.7,169.4 150.4,171.9 146.2,173.6C142.1,175.2 142.3,174.8 136.5,175.7C130.7,176.6 119.4,180.6 111.6,179.0C103.9,177.3 95.4,182.6 90.0,166.0C84.6,149.4 64.2,92.1 79.2,79.5C94.1,66.9 163.0,86.7 179.7,90.3Z" fill="#DFAA4E" stroke="#6b6b6b" stroke-width=".5" stroke-opacity=".6"/><path d="M350.5,480.9C354.5,475.4 351.8,468.2 351.6,459.2C351.4,450.2 350.4,437.6 349.5,426.8C348.6,416.0 347.3,405.2 346.2,394.4C345.1,383.6 343.7,370.4 343.0,361.9C342.3,353.4 341.4,350.0 341.9,343.3C342.4,336.6 343.9,327.4 346.2,321.7C348.6,315.9 351.8,311.6 355.9,308.7C360.1,305.8 365.7,304.7 371.1,304.4C376.5,304.0 383.0,304.7 388.4,306.5C393.8,308.3 398.8,311.2 403.5,315.2C408.2,319.1 412.9,324.5 416.5,330.3C420.1,336.1 422.3,342.9 425.1,349.8C428.0,356.6 430.5,365.4 433.8,371.4C437.0,377.4 439.9,378.6 444.6,385.7C449.3,392.8 455.4,405.5 461.9,413.8C468.4,422.1 476.3,429.3 483.5,435.4C490.7,441.6 497.6,446.6 505.1,450.6C512.7,454.5 520.6,457.8 528.9,459.2C537.2,460.7 546.2,459.6 554.9,459.2C563.5,458.9 572.2,458.1 580.8,457.1C589.5,456.0 598.1,454.5 606.8,452.7C615.4,450.9 624.1,448.4 632.7,446.3C641.4,444.1 650.0,442.1 658.6,439.8C667.3,437.4 676.3,434.9 684.6,432.2C692.9,429.5 700.8,426.8 708.4,423.6C715.9,420.3 723.2,416.5 730.0,412.7C736.8,409.0 743.3,405.4 749.5,400.9C755.6,396.3 761.7,391.1 766.8,385.7C771.8,380.3 776.3,374.5 779.7,368.4C783.2,362.3 785.7,353.9 787.3,349.0C788.9,344.0 789.5,343.5 789.5,339.0C789.5,334.4 788.9,326.7 787.3,321.7C785.7,316.6 782.8,313.0 779.7,308.7C776.7,304.4 772.9,300.4 768.9,295.7C765.0,291.0 760.3,286.0 755.9,280.6C751.6,275.2 742.3,271.6 743.0,263.3C743.7,255.0 748.7,242.9 760.3,230.9C771.8,218.8 797.7,188.3 812.2,190.9C826.6,193.4 839.2,235.2 846.8,246.0C854.3,256.8 843.7,251.0 857.6,255.7C871.4,260.4 917.9,207.7 930.0,274.1C942.1,340.4 1003.3,590.5 930.0,653.8C856.7,717.1 586.8,661.0 490.0,653.8C393.2,646.6 376.5,637.6 349.5,610.6C322.4,583.6 327.7,513.3 327.8,491.7C328.0,470.0 346.6,486.3 350.5,480.9Z" fill="#96CE84" stroke="#6b6b6b" stroke-width=".5" stroke-opacity=".6"/><path d="M380.8,516.5C383.3,511.5 383.5,508.2 386.2,504.6C388.9,501.0 392.3,497.2 397.0,494.9C401.7,492.6 407.1,490.9 414.3,490.6C421.5,490.2 430.9,491.7 440.3,492.7C449.6,493.8 460.5,496.3 470.5,497.1C480.6,497.8 488.6,497.5 500.8,497.1C513.1,496.6 532.2,494.4 544.1,494.3C555.9,494.1 563.9,495.0 572.2,496.0C580.5,497.0 587.3,498.5 593.8,500.3C600.3,502.1 606.4,504.6 611.1,506.8C615.8,509.0 618.6,510.8 621.9,513.3C625.1,515.8 626.6,518.0 630.5,521.9C634.5,525.9 647.5,529.5 645.7,537.1C643.9,544.6 633.1,560.5 619.7,567.3C606.4,574.2 581.9,580.3 565.7,578.1C549.5,576.0 531.8,558.7 522.4,554.4C513.1,550.0 513.8,551.3 509.5,552.2C505.1,553.1 501.5,557.2 496.5,559.8C491.4,562.3 485.1,565.0 479.2,567.3C473.2,569.7 468.0,572.0 460.8,573.8C453.6,575.6 450.9,584.6 435.9,578.1C421.0,571.7 380.3,545.2 371.1,534.9C361.9,524.6 378.3,521.6 380.8,516.5Z" fill="#4CB233" stroke="#6b6b6b" stroke-width=".5" stroke-opacity=".6"/></g><use href="#uswater" fill="#fff" stroke="#888" stroke-width=".4"/><use href="#uslakes" fill="none" stroke="#777" stroke-width=".7"/><use href="#usbord" fill="none" stroke="#444" stroke-width=".6" stroke-opacity=".75"/><use href="#usout" fill="none" stroke="#666" stroke-width=".9" stroke-linejoin="round"/><path d="M22.6,449.8 H207.5 L353.8,610.8 H617.3 V773.4 H22.6Z M22.6,698.9 H353.8 M353.8,610.8 V773.4" fill="none" stroke="#333" stroke-width="1.3"/><g clip-path="url(#ak)"><rect x="20" y="445" width="340" height="260" fill="#A0A0A0"/><path d="M122.7,636.9C129.2,627.0 129.5,620.7 135.2,614.9C141.0,609.2 149.4,606.0 157.2,602.3C165.1,598.7 174.0,595.0 182.4,592.9C190.8,590.8 199.2,589.8 207.6,589.8C216.0,589.8 225.9,591.3 232.7,592.9C239.5,594.5 234.8,600.2 248.5,599.2C262.1,598.1 295.6,581.4 314.5,586.6C333.4,591.9 356.4,615.4 361.7,630.6C366.9,645.8 374.8,667.3 345.9,677.8C317.1,688.3 228.0,692.0 188.7,693.5C149.4,695.1 125.5,690.4 110.1,687.3C94.6,684.1 93.8,683.1 95.9,674.7C98.0,666.3 116.1,646.9 122.7,636.9Z" fill="#F4D592" stroke="#6b6b6b" stroke-width=".4" stroke-opacity=".6"/><path d="M309.8,627.5C310.0,625.1 315.3,625.4 317.6,627.5C320.0,629.6 324.2,637.7 323.9,640.1C323.7,642.4 318.4,643.8 316.1,641.7C313.7,639.6 309.5,629.9 309.8,627.5Z" fill="#DFAA4E" stroke="#6b6b6b" stroke-width=".4" stroke-opacity=".6"/><path d="M327.1,643.2C327.9,640.6 335.2,643.5 338.1,646.4C341.0,649.3 345.2,657.9 344.4,660.5C343.6,663.1 336.2,665.0 333.4,662.1C330.5,659.2 326.3,645.8 327.1,643.2Z" fill="#DFAA4E" stroke="#6b6b6b" stroke-width=".4" stroke-opacity=".6"/><path d="M292.5,614.9C293.3,613.4 299.6,614.4 301.9,616.5C304.3,618.6 307.4,625.9 306.6,627.5C305.8,629.1 299.6,628.0 297.2,625.9C294.8,623.8 291.7,616.5 292.5,614.9Z" fill="#DFAA4E" stroke="#6b6b6b" stroke-width=".4" stroke-opacity=".6"/><path d="M75.5,555.2L110.1,536.3L151.0,520.6L188.7,514.3L232.7,512.7L232.7,441.9L62.9,441.9L62.9,555.2Z" fill="#B3DCAD" stroke="#6b6b6b" stroke-width=".4" stroke-opacity=".6"/><path d="M80.2,547.3L94.3,533.2L103.8,520.6L132.1,504.8L163.5,489.1L188.7,478.1L207.6,468.7L207.6,441.9L62.9,441.9L62.9,545.7Z" fill="#96CE84" stroke="#6b6b6b" stroke-width=".4" stroke-opacity=".6"/><path d="M86.5,501.7L99.1,504.8L119.5,489.1L141.5,473.4L160.4,460.8L160.4,441.9L78.6,441.9Z" fill="#4CB233" stroke="#6b6b6b" stroke-width=".4" stroke-opacity=".6"/></g><path d="M167.0,638.8L170.4,645.5L167.0,655.5L160.3,662.2L152.0,665.5L149.5,660.5L153.7,652.2L160.3,643.8Z" fill="#DFAA4E"/><path d="M61.8,607.1L68.5,604.6L73.5,607.9L71.8,612.1L65.1,611.2Z" fill="#A0A0A0"/><path d="M43.4,551.9L47.6,550.3L53.4,556.1L61.8,560.3L60.1,562.8L54.3,564.5L50.1,558.6L45.1,556.1Z" fill="#96CE84"/><use href="#akout" fill="none" stroke="#777" stroke-width=".6"/><path d="M269.3,616.9L281.1,624.2L292.9,634.5L303.2,644.9L313.6,653.7L323.9,662.6" fill="none" stroke="#4a4a4a" stroke-width=".9" stroke-opacity=".85"/><path d="M281.1,619.8L294.4,628.6L304.7,639.0L316.5,649.3L325.4,658.1" fill="none" stroke="#4a4a4a" stroke-width=".9" stroke-opacity=".85"/><path d="M295.9,622.8L307.7,631.6L318.0,640.4L328.3,649.3L335.7,656.7" fill="none" stroke="#4a4a4a" stroke-width=".9" stroke-opacity=".85"/><path d="M310.6,627.2L322.4,636.0L332.7,644.9L340.1,652.2" fill="none" stroke="#4a4a4a" stroke-width=".9" stroke-opacity=".85"/><path d="M285.6,608.0L295.9,615.4L307.7,624.2L319.5,634.5" fill="none" stroke="#4a4a4a" stroke-width=".9" stroke-opacity=".85"/><path d="M290.0,628.6L295.9,624.2" fill="none" stroke="#4a4a4a" stroke-width=".9" stroke-opacity=".85"/><path d="M303.2,641.9L310.6,634.5" fill="none" stroke="#4a4a4a" stroke-width=".9" stroke-opacity=".85"/><path d="M316.5,650.8L323.9,641.9" fill="none" stroke="#4a4a4a" stroke-width=".9" stroke-opacity=".85"/><path d="M326.8,659.6L334.2,650.8" fill="none" stroke="#4a4a4a" stroke-width=".9" stroke-opacity=".85"/><path d="M263.4,612.4L272.3,613.9L276.7,618.3" fill="none" stroke="#4a4a4a" stroke-width=".9" stroke-opacity=".85"/><path d="M298.8,633.1L303.2,627.2" fill="none" stroke="#4a4a4a" stroke-width=".9" stroke-opacity=".85"/><path d="M310.6,647.8L316.5,640.4" fill="none" stroke="#4a4a4a" stroke-width=".9" stroke-opacity=".85"/><path d="M322.4,656.7L329.8,649.3" fill="none" stroke="#4a4a4a" stroke-width=".9" stroke-opacity=".85"/><path d="M332.7,662.6L338.6,656.7" fill="none" stroke="#4a4a4a" stroke-width=".9" stroke-opacity=".85"/><path d="M290.0,618.3L287.0,624.2" fill="none" stroke="#4a4a4a" stroke-width=".9" stroke-opacity=".85"/><path d="M301.8,624.2L298.8,630.1" fill="none" stroke="#4a4a4a" stroke-width=".9" stroke-opacity=".85"/><path d="M315.0,633.1L312.1,639.0" fill="none" stroke="#4a4a4a" stroke-width=".9" stroke-opacity=".85"/><path d="M326.8,641.9L323.9,647.8" fill="none" stroke="#4a4a4a" stroke-width=".9" stroke-opacity=".85"/><path d="M301.8,636.8L310.6,646.3L320.2,656.7" fill="none" stroke="#fff" stroke-width="1.1"/><path d="M290.0,624.2L298.8,631.6" fill="none" stroke="#fff" stroke-width="1.1"/><path d="M319.5,639.0L326.8,646.3L332.7,653.7" fill="none" stroke="#fff" stroke-width="1.1"/><path d="M294.4,616.9L304.7,625.7L313.6,631.6" fill="none" stroke="#fff" stroke-width="1.1"/><path d="M310.6,641.9L318.0,649.3" fill="none" stroke="#fff" stroke-width="1.1"/><path d="M366.5,639.7L368.5,635.8L371.7,632.5L374.3,629.9L375.6,631.9L375.0,635.1L371.7,637.7L369.1,640.3Z" fill="#96CE84" stroke="#666" stroke-width=".5" stroke-linejoin="round"/><path d="M386.3,628.6L389.3,623.4L395.2,620.1L404.3,620.1L406.9,623.4L407.6,628.6L405.0,633.8L401.1,636.2L393.9,634.5L388.7,631.9Z" fill="#96CE84" stroke="#666" stroke-width=".5" stroke-linejoin="round"/><path d="M452.6,648.2L457.8,646.2L463.6,641.0L466.9,644.3L470.8,649.5L474.7,653.4L478.0,659.2L473.4,660.5L468.2,658.6L463.0,659.2L459.1,660.5L455.8,654.7Z" fill="#96CE84" stroke="#666" stroke-width=".5" stroke-linejoin="round"/><path d="M494.0,667.7L495.6,663.2L503.4,663.8L512.5,664.5L518.8,664.1L517.7,667.1L511.9,669.0L502.1,667.7Z" fill="#B3DCAD" stroke="#666" stroke-width=".5" stroke-linejoin="round"/><path d="M504.7,676.8L508.6,675.3L513.8,676.8L515.1,680.8L511.9,683.6L508.0,682.1Z" fill="#B3DCAD" stroke="#666" stroke-width=".5" stroke-linejoin="round"/><path d="M520.3,674.2L523.0,670.6L526.9,671.6L530.8,674.9L537.3,673.6L545.1,676.2L550.3,680.8L549.7,684.7L543.8,687.9L537.3,690.1L532.7,688.6L530.8,683.4L525.6,679.5L521.6,677.5Z" fill="#B3DCAD" stroke="#666" stroke-width=".5" stroke-linejoin="round"/><path d="M521.0,693.1L524.9,689.6L527.5,690.5L526.2,693.1Z" fill="#B3DCAD" stroke="#666" stroke-width=".5" stroke-linejoin="round"/><path d="M554.9,708.1L557.5,703.2L566.0,707.5L573.8,710.7L582.9,714.7L590.7,721.2L594.7,726.4L597.3,731.6L603.8,735.5L598.6,740.7L589.4,747.2L580.3,753.8L573.8,760.3L567.3,764.2L559.5,759.0L556.2,752.5L557.5,743.3L553.6,735.5L549.7,727.7L552.9,722.5L556.2,717.3Z" fill="#B3DCAD" stroke="#666" stroke-width=".5" stroke-linejoin="round"/><ellipse cx="33.0" cy="708.3" rx="2.0" ry="1.1" transform="rotate(20 33.0 708.3)" fill="#888" stroke="#555" stroke-width=".3"/><ellipse cx="37.7" cy="711.5" rx="2.6" ry="1.6" transform="rotate(20 37.7 711.5)" fill="#888" stroke="#555" stroke-width=".3"/><ellipse cx="44.0" cy="724.1" rx="3.2" ry="1.1" transform="rotate(20 44.0 724.1)" fill="#888" stroke="#555" stroke-width=".3"/><ellipse cx="50.3" cy="725.6" rx="2.0" ry="1.6" transform="rotate(20 50.3 725.6)" fill="#888" stroke="#555" stroke-width=".3"/><ellipse cx="75.5" cy="731.9" rx="2.6" ry="1.1" transform="rotate(20 75.5 731.9)" fill="#888" stroke="#555" stroke-width=".3"/><ellipse cx="94.3" cy="744.5" rx="3.2" ry="1.6" transform="rotate(20 94.3 744.5)" fill="#888" stroke="#555" stroke-width=".3"/><ellipse cx="103.8" cy="747.6" rx="2.0" ry="1.1" transform="rotate(20 103.8 747.6)" fill="#888" stroke="#555" stroke-width=".3"/><ellipse cx="110.1" cy="755.5" rx="2.6" ry="1.6" transform="rotate(20 110.1 755.5)" fill="#888" stroke="#555" stroke-width=".3"/><ellipse cx="119.5" cy="763.4" rx="3.2" ry="1.1" transform="rotate(20 119.5 763.4)" fill="#888" stroke="#555" stroke-width=".3"/><ellipse cx="125.8" cy="750.8" rx="2.0" ry="1.6" transform="rotate(20 125.8 750.8)" fill="#96CE84" stroke="#555" stroke-width=".3"/><ellipse cx="141.5" cy="769.0" rx="2.6" ry="1.1" transform="rotate(20 141.5 769.0)" fill="#96CE84" stroke="#555" stroke-width=".3"/><ellipse cx="147.8" cy="766.5" rx="3.2" ry="1.6" transform="rotate(20 147.8 766.5)" fill="#96CE84" stroke="#555" stroke-width=".3"/><ellipse cx="176.1" cy="764.0" rx="2.0" ry="1.1" transform="rotate(20 176.1 764.0)" fill="#96CE84" stroke="#555" stroke-width=".3"/><ellipse cx="185.6" cy="760.2" rx="2.6" ry="1.6" transform="rotate(20 185.6 760.2)" fill="#96CE84" stroke="#555" stroke-width=".3"/><ellipse cx="207.6" cy="757.1" rx="3.2" ry="1.1" transform="rotate(20 207.6 757.1)" fill="#96CE84" stroke="#555" stroke-width=".3"/><ellipse cx="217.0" cy="758.6" rx="2.0" ry="1.6" transform="rotate(20 217.0 758.6)" fill="#96CE84" stroke="#555" stroke-width=".3"/><ellipse cx="235.9" cy="755.5" rx="2.6" ry="1.1" transform="rotate(20 235.9 755.5)" fill="#96CE84" stroke="#555" stroke-width=".3"/><ellipse cx="261.0" cy="749.2" rx="3.2" ry="1.6" transform="rotate(20 261.0 749.2)" fill="#96CE84" stroke="#555" stroke-width=".3"/><ellipse cx="273.6" cy="744.5" rx="2.0" ry="1.1" transform="rotate(-30 273.6 744.5)" fill="#96CE84" stroke="#555" stroke-width=".3"/><ellipse cx="284.6" cy="739.8" rx="2.6" ry="1.6" transform="rotate(-30 284.6 739.8)" fill="#888" stroke="#555" stroke-width=".3"/><path d="M283.0,745.6L291.2,735.7L301.0,733.3L310.9,727.5L314.1,719.3L322.4,717.7L325.6,722.6L317.4,729.2L307.6,734.1L297.7,739.0L287.9,745.6Z" fill="#A0A0A0" stroke="#555" stroke-width=".4"/><path d="M325.6,721.0L332.2,714.4L342.0,712.0" fill="none" stroke="#666" stroke-width=".9"/><text x="783.7" y="624.0" text-anchor="middle" style="font-size:12.8px;font-weight:bold" fill="#111">Probability</text><text x="783.7" y="639.0" text-anchor="middle" style="font-size:12.9px;font-weight:bold" fill="#111">(Percent Chance)</text><text x="722.8" y="653.2" text-anchor="middle" style="font-size:9.6px;font-weight:bold" fill="#111">Above Normal</text><text x="845.6" y="653.2" text-anchor="middle" style="font-size:9.6px;font-weight:bold" fill="#111">Below Normal</text><rect x="689.3" y="665.2" width="23.1" height="10" fill="#B3DCAD" stroke="#000" stroke-opacity=".22" stroke-width=".6"/><rect x="857.3" y="665.2" width="23.1" height="10" fill="#F4D592" stroke="#000" stroke-opacity=".22" stroke-width=".6"/><text x="717.4" y="673.5" style="font-size:9.2px" fill="#444">33-40%</text><text x="852" y="673.5" text-anchor="end" style="font-size:9.2px" fill="#444">33-40%</text><rect x="689.3" y="681.0" width="23.1" height="10" fill="#96CE84" stroke="#000" stroke-opacity=".22" stroke-width=".6"/><rect x="857.3" y="681.0" width="23.1" height="10" fill="#DFAA4E" stroke="#000" stroke-opacity=".22" stroke-width=".6"/><text x="717.4" y="689.3" style="font-size:9.2px" fill="#444">40-50%</text><text x="852" y="689.3" text-anchor="end" style="font-size:9.2px" fill="#444">40-50%</text><rect x="689.3" y="696.8" width="23.1" height="10" fill="#4CB233" stroke="#000" stroke-opacity=".22" stroke-width=".6"/><rect x="857.3" y="696.8" width="23.1" height="10" fill="#C26D31" stroke="#000" stroke-opacity=".22" stroke-width=".6"/><text x="717.4" y="705.1" style="font-size:9.2px" fill="#444">50-60%</text><text x="852" y="705.1" text-anchor="end" style="font-size:9.2px" fill="#444">50-60%</text><rect x="689.3" y="712.6" width="23.1" height="10" fill="#0F9F2B" stroke="#000" stroke-opacity=".22" stroke-width=".6"/><rect x="857.3" y="712.6" width="23.1" height="10" fill="#9F5230" stroke="#000" stroke-opacity=".22" stroke-width=".6"/><text x="717.4" y="720.9" style="font-size:9.2px" fill="#444">60-70%</text><text x="852" y="720.9" text-anchor="end" style="font-size:9.2px" fill="#444">60-70%</text><rect x="689.3" y="728.4" width="23.1" height="10" fill="#0B7E22" stroke="#000" stroke-opacity=".22" stroke-width=".6"/><rect x="857.3" y="728.4" width="23.1" height="10" fill="#964A3D" stroke="#000" stroke-opacity=".22" stroke-width=".6"/><text x="717.4" y="736.7" style="font-size:9.2px" fill="#444">70-80%</text><text x="852" y="736.7" text-anchor="end" style="font-size:9.2px" fill="#444">70-80%</text><rect x="689.3" y="744.2" width="23.1" height="10" fill="#2D6B10" stroke="#000" stroke-opacity=".22" stroke-width=".6"/><rect x="857.3" y="744.2" width="23.1" height="10" fill="#7D3D0C" stroke="#000" stroke-opacity=".22" stroke-width=".6"/><text x="717.4" y="752.5" style="font-size:9.2px" fill="#444">80-90%</text><text x="852" y="752.5" text-anchor="end" style="font-size:9.2px" fill="#444">80-90%</text><rect x="689.3" y="760.0" width="23.1" height="10" fill="#29580E" stroke="#000" stroke-opacity=".22" stroke-width=".6"/><rect x="857.3" y="760.0" width="23.1" height="10" fill="#5B2F2A" stroke="#000" stroke-opacity=".22" stroke-width=".6"/><text x="717.4" y="768.3" style="font-size:9.2px" fill="#444">90-100%</text><text x="852" y="768.3" text-anchor="end" style="font-size:9.2px" fill="#444">90-100%</text><text x="783.7" y="698.3" text-anchor="middle" style="font-size:9.9px;font-weight:bold" fill="#111">Near</text><text x="783.7" y="709.3" text-anchor="middle" style="font-size:9.9px;font-weight:bold" fill="#111">Normal</text><rect x="772.4" y="720.3" width="23.1" height="10" fill="#A0A0A0" stroke="#000" stroke-opacity=".22" stroke-width=".6"/><text x="647.6" y="675" text-anchor="middle" style="font-size:11.5px" fill="#3c3c3c">Leaning</text><text x="647.6" y="688.4" text-anchor="middle" style="font-size:11.5px" fill="#3c3c3c">Above</text><text x="647.6" y="729.6" text-anchor="middle" style="font-size:11.5px" fill="#3c3c3c">Likely</text><text x="647.6" y="742.8" text-anchor="middle" style="font-size:11.5px" fill="#3c3c3c">Above</text><text x="923.3" y="675" text-anchor="middle" style="font-size:11.5px" fill="#3c3c3c">Leaning</text><text x="923.3" y="688.4" text-anchor="middle" style="font-size:11.5px" fill="#3c3c3c">Below</text><text x="923.3" y="729.6" text-anchor="middle" style="font-size:11.5px" fill="#3c3c3c">Likely</text><text x="923.3" y="742.8" text-anchor="middle" style="font-size:11.5px" fill="#3c3c3c">Below</text><path d="M681.5,664.5 C675.75,664.5 674.6,674.2 670,678.2 C674.6,682.2 675.75,692 681.5,692" fill="none" stroke="#3a3a3a" stroke-width=".9"/><path d="M685,697.5 C677.5,697.5 676.0,730 670,734 C676.0,738 677.5,770.5 685,770.5" fill="none" stroke="#3a3a3a" stroke-width=".9"/><path d="M884,664.5 C890.0,664.5 891.2,674.2 896,678.2 C891.2,682.2 890.0,692 884,692" fill="none" stroke="#3a3a3a" stroke-width=".9"/><path d="M884.5,697 C890.75,697 892.0,730 897,734 C892.0,738 890.75,770.5 884.5,770.5" fill="none" stroke="#3a3a3a" stroke-width=".9"/><path d="M410.0,625.5L432.0,627.5" stroke="#222" stroke-width=".8"/><path d="M180.0,719.5L178.0,758.5" stroke="#222" stroke-width=".8"/><path d="M140.0,759.5L160.0,756.5" stroke="#222" stroke-width=".8"/><path d="M288.0,725.5L301.0,733.5" stroke="#222" stroke-width=".8"/><text x="163.0" y="150.5" text-anchor="middle" style="font-size:21.0px;font-weight:bold" fill="#111" stroke="#fff" stroke-width="3.0" stroke-linejoin="round" paint-order="stroke">Below</text><text x="370.0" y="194.5" text-anchor="middle" style="font-size:21.0px;font-weight:bold" fill="#111" stroke="#fff" stroke-width="3.0" stroke-linejoin="round" paint-order="stroke">Near</text><text x="370.0" y="217.5" text-anchor="middle" style="font-size:21.0px;font-weight:bold" fill="#111" stroke="#fff" stroke-width="3.0" stroke-linejoin="round" paint-order="stroke">Normal</text><text x="883.0" y="155.5" text-anchor="middle" style="font-size:21.0px;font-weight:bold" fill="#111" stroke="#fff" stroke-width="3.0" stroke-linejoin="round" paint-order="stroke">Near</text><text x="883.0" y="178.5" text-anchor="middle" style="font-size:21.0px;font-weight:bold" fill="#111" stroke="#fff" stroke-width="3.0" stroke-linejoin="round" paint-order="stroke">Normal</text><text x="483.0" y="538.5" text-anchor="middle" style="font-size:21.0px;font-weight:bold" fill="#111" stroke="#fff" stroke-width="3.0" stroke-linejoin="round" paint-order="stroke">Above</text><text x="123.0" y="485.5" text-anchor="middle" style="font-size:16.6px;font-weight:bold" fill="#111" stroke="#fff" stroke-width="2.4" stroke-linejoin="round" paint-order="stroke">Above</text><text x="174.0" y="559.5" text-anchor="middle" style="font-size:15.5px;font-weight:bold" fill="#111" stroke="#fff" stroke-width="2.4" stroke-linejoin="round" paint-order="stroke">Near</text><text x="174.0" y="578.5" text-anchor="middle" style="font-size:15.5px;font-weight:bold" fill="#111" stroke="#fff" stroke-width="2.4" stroke-linejoin="round" paint-order="stroke">Normal</text><text x="160.0" y="660.5" text-anchor="middle" style="font-size:16.6px;font-weight:bold" fill="#111" stroke="#fff" stroke-width="2.4" stroke-linejoin="round" paint-order="stroke">Below</text><text x="326.0" y="651.5" text-anchor="middle" style="font-size:16.6px;font-weight:bold" fill="#111" stroke="#fff" stroke-width="2.4" stroke-linejoin="round" paint-order="stroke">Below</text><text x="452.0" y="630.5" text-anchor="middle" style="font-size:11.9px;font-weight:bold" fill="#111">Above</text><text x="190.0" y="711.5" text-anchor="middle" style="font-size:13.3px;font-weight:bold" fill="#111">Aleutian Islands</text><text x="265.0" y="722.5" text-anchor="middle" style="font-size:10.9px;font-weight:bold" fill="#111">Near</text><text x="265.0" y="735.5" text-anchor="middle" style="font-size:10.9px;font-weight:bold" fill="#111">Normal</text><text x="202.0" y="739.5" text-anchor="middle" style="font-size:11.9px;font-weight:bold" fill="#111">Above</text><text x="116.0" y="763.5" text-anchor="middle" style="font-size:11.9px;font-weight:bold" fill="#111">Above</text></g><g transform="matrix(1.0177 0 0 1.0177 999.6 834.44)"><g transform="translate(0 -1.8)"><text x="181" y="76.3" textLength="605" lengthAdjust="spacingAndGlyphs" style="font-size:44.4px" fill="#000">8-14 Day Precipitation Outlook</text><text x="404" y="109.4" style="font-size:18.4px;font-weight:bold" fill="#111">Valid:</text><text x="462.5" y="109.4" style="font-size:18.4px" fill="#222">June 12 - 18, 2025</text><text x="404" y="129.6" style="font-size:18.4px;font-weight:bold" fill="#111">Issued:</text><text x="479" y="129.6" style="font-size:18.4px" fill="#222">June 4, 2025</text><use href="#doc" x="58.8" y="62.4"/><use href="#noaa" x="908.4" y="62.9"/></g><g clip-path="url(#us)"><rect x="80" y="70" width="880" height="560" fill="#B3DCAD"/><path d="M108.4,258.5C115.6,253.5 116.4,248.0 121.4,243.3C126.5,238.6 132.6,233.7 138.8,230.3C145.0,226.8 152.2,223.9 158.4,222.7C164.5,221.4 169.9,221.0 175.7,222.7C181.5,224.3 187.7,227.9 193.1,232.4C198.6,237.0 203.3,243.3 208.3,249.8C213.4,256.3 218.5,264.3 223.5,271.6C228.6,278.8 233.7,286.0 238.8,293.3C243.8,300.5 248.9,307.8 254.0,315.0C259.0,322.3 264.5,329.1 269.2,336.7C273.9,344.3 278.6,352.3 282.2,360.6C285.8,369.0 288.9,378.8 290.9,386.7C292.9,394.7 294.0,400.7 294.2,408.4C294.3,416.2 293.6,426.0 292.0,433.0C290.4,440.0 287.5,445.4 284.4,450.4C281.3,455.5 276.8,460.2 273.5,463.5C270.3,466.7 270.3,465.3 264.8,470.0C259.4,474.7 259.4,491.7 240.9,491.7C222.5,491.7 179.4,486.3 154.0,470.0C128.7,453.7 101.5,426.6 88.8,393.9C76.2,361.2 74.7,296.3 78.0,273.7C81.2,251.2 101.1,263.6 108.4,258.5Z" fill="#A0A0A0" stroke="#6b6b6b" stroke-width=".5" stroke-opacity=".6"/><path d="M323.5,110.8C304.7,114.0 322.4,124.2 323.5,130.3C324.6,136.5 326.8,141.6 330.0,147.7C333.3,153.9 337.6,162.0 343.1,167.3C348.5,172.5 355.7,176.7 362.6,179.2C369.5,181.7 377.1,183.4 384.3,182.5C391.6,181.6 399.5,177.8 406.1,173.8C412.6,169.8 418.9,163.8 423.4,158.6C428.0,153.3 431.1,150.2 433.2,142.3C435.4,134.3 454.8,116.0 436.5,110.8C418.2,105.5 342.3,107.5 323.5,110.8Z" fill="#96CE84" stroke="#6b6b6b" stroke-width=".5" stroke-opacity=".6"/><path d="M653.6,237.9C663.2,229.2 680.9,217.8 693.8,208.5C706.6,199.3 713.7,186.8 730.7,182.5C747.7,178.1 774.2,174.5 795.9,182.5C817.6,190.4 850.2,211.4 861.1,230.3C871.9,249.1 865.8,279.8 861.1,295.5C856.4,311.1 840.1,319.6 832.8,324.1C825.6,328.7 823.1,323.2 817.6,322.6C812.2,322.0 806.8,321.4 800.2,320.4C793.7,319.5 786.5,318.2 778.5,317.2C770.5,316.2 761.1,315.0 752.4,314.6C743.7,314.1 735.4,314.1 726.4,314.6C717.3,315.0 707.2,316.0 698.1,317.2C689.1,318.3 680.4,319.7 672.0,321.5C663.7,323.3 655.7,325.9 648.1,328.1C640.5,330.2 633.7,332.8 626.4,334.6C619.2,336.4 610.8,338.7 604.7,338.9C598.5,339.1 593.3,338.2 589.5,335.7C585.7,333.1 583.0,328.2 581.9,323.7C580.8,319.2 581.0,313.9 583.0,308.5C584.9,303.1 588.8,296.9 593.8,291.1C598.9,285.3 606.3,278.8 613.4,273.7C620.4,268.7 629.5,266.7 636.2,260.7C642.9,254.7 644.0,246.6 653.6,237.9Z" fill="#A0A0A0" stroke="#6b6b6b" stroke-width=".5" stroke-opacity=".6"/><path d="M783.9,208.5C784.1,230.3 784.5,224.5 785.0,230.3C785.6,236.1 785.4,239.0 787.2,243.3C789.0,247.7 792.3,252.7 795.9,256.3C799.5,260.0 803.9,262.9 808.9,265.0C814.0,267.2 820.5,269.0 826.3,269.4C832.1,269.7 837.9,266.5 843.7,267.2C849.5,267.9 846.1,272.6 861.1,273.7C876.1,274.8 921.7,302.7 933.9,273.7C946.0,244.8 958.9,128.9 933.9,99.9C908.9,70.9 808.9,81.8 783.9,99.9C759.0,118.0 783.8,186.8 783.9,208.5Z" fill="#F4D592" stroke="#6b6b6b" stroke-width=".5" stroke-opacity=".6"/><path d="M445.2,540.6C452.4,535.2 468.7,521.9 479.9,513.4C491.2,504.9 503.3,496.8 512.5,489.5C521.7,482.3 527.8,475.2 535.2,470.0C542.5,464.7 548.9,461.5 556.9,458.0C564.8,454.6 573.5,451.9 583.0,449.3C592.4,446.8 603.2,444.3 613.4,442.8C623.5,441.4 634.0,440.6 643.8,440.6C653.6,440.6 663.7,441.2 672.0,442.8C680.4,444.4 687.6,447.0 693.8,450.4C699.9,453.9 705.0,458.4 709.0,463.5C713.0,468.5 715.9,474.7 717.7,480.8C719.5,487.0 719.8,495.3 719.8,500.4C719.8,505.5 719.5,503.7 717.7,511.3C715.9,518.9 746.6,529.4 709.0,546.0C671.3,562.7 533.5,600.3 491.7,611.2C449.9,622.1 467.4,622.1 458.2,611.2C449.0,600.3 438.7,557.8 436.5,546.0C434.3,534.3 437.9,546.0 445.2,540.6Z" fill="#96CE84" stroke="#6b6b6b" stroke-width=".5" stroke-opacity=".6"/><path d="M464.7,581.9C470.2,576.1 482.8,562.9 490.8,554.7C498.8,546.6 506.2,539.7 512.5,533.0C518.8,526.3 522.3,518.5 528.6,514.5C534.9,510.5 543.1,510.3 550.4,509.1C557.6,507.9 564.8,507.1 572.1,507.3C579.3,507.6 586.9,509.1 593.8,510.8C600.7,512.6 607.9,515.4 613.4,517.8C618.8,520.2 621.7,522.1 626.4,525.4C631.1,528.6 642.3,530.3 641.6,537.3C640.9,544.4 647.1,555.4 622.1,567.8C597.1,580.1 517.2,604.0 491.7,611.2C466.2,618.5 474.7,614.8 469.1,611.2C463.5,607.6 458.9,594.4 458.2,589.5C457.5,584.6 459.3,587.7 464.7,581.9Z" fill="#4CB233" stroke="#6b6b6b" stroke-width=".5" stroke-opacity=".6"/></g><use href="#uswater" fill="#fff" stroke="#888" stroke-width=".4"/><use href="#uslakes" fill="none" stroke="#777" stroke-width=".7"/><use href="#usbord" fill="none" stroke="#444" stroke-width=".6" stroke-opacity=".75"/><use href="#usout" fill="none" stroke="#666" stroke-width=".9" stroke-linejoin="round"/><path d="M22.6,449.8 H207.5 L353.8,610.8 H617.3 V773.4 H22.6Z M22.6,698.9 H353.8 M353.8,610.8 V773.4" fill="none" stroke="#333" stroke-width="1.3"/><g clip-path="url(#ak)"><rect x="20" y="445" width="340" height="260" fill="#B3DCAD"/><path d="M91.6,493.0C96.2,494.8 99.5,500.6 105.5,502.3C111.4,504.0 120.4,504.5 127.1,503.2C133.8,502.0 140.5,498.6 145.6,494.6C150.8,490.6 155.2,484.0 158.0,479.1C160.8,474.2 161.9,471.9 162.6,465.2C163.4,458.5 176.8,443.3 162.6,439.0C148.5,434.6 91.8,430.2 77.6,439.0C63.5,447.7 75.3,482.5 77.6,491.5C80.0,500.5 86.9,491.2 91.6,493.0Z" fill="#96CE84" stroke="#6b6b6b" stroke-width=".4" stroke-opacity=".6"/><path d="M88.5,618.2C90.5,610.0 99.5,598.6 105.5,590.4C111.4,582.1 117.3,576.0 124.0,568.8C130.7,561.5 138.4,553.0 145.6,547.1C152.8,541.2 160.6,536.1 167.3,533.2C174.0,530.4 178.6,529.9 185.8,530.1C193.0,530.4 202.3,533.1 210.5,534.8C218.8,536.5 229.6,533.1 235.3,540.3C240.9,547.5 247.6,566.6 244.5,578.0C241.4,589.5 234.2,593.5 216.7,608.9C199.2,624.4 158.5,658.6 139.5,670.7C120.4,682.8 110.1,686.7 102.4,681.6C94.6,676.4 95.4,650.4 93.1,639.8C90.8,629.3 86.4,626.4 88.5,618.2Z" fill="#A0A0A0" stroke="#6b6b6b" stroke-width=".4" stroke-opacity=".6"/><path d="M125.5,639.8C124.0,634.2 125.3,632.6 127.1,627.5C128.9,622.3 130.7,614.6 136.4,608.9C142.0,603.3 152.8,597.9 161.1,593.5C169.3,589.1 177.1,585.8 185.8,582.7C194.6,579.6 203.8,576.3 213.6,574.9C223.4,573.5 228.6,573.8 244.5,574.3C260.5,574.8 290.9,569.7 309.4,578.0C328.0,586.4 350.6,608.9 355.8,624.4C360.9,639.8 368.6,660.4 340.3,670.7C312.0,681.0 219.8,687.7 185.8,686.2C151.8,684.6 146.4,669.2 136.4,661.5C126.3,653.7 127.1,645.5 125.5,639.8Z" fill="#F4D592" stroke="#6b6b6b" stroke-width=".4" stroke-opacity=".6"/><path d="M332.6,636.7C334.9,634.7 343.2,636.7 345.0,639.8C346.8,642.9 345.7,653.2 343.4,655.3C341.1,657.3 332.9,655.3 331.1,652.2C329.2,649.1 330.3,638.8 332.6,636.7Z" fill="#A0A0A0" stroke="#6b6b6b" stroke-width=".4" stroke-opacity=".6"/></g><path d="M167.0,638.8L170.4,645.5L167.0,655.5L160.3,662.2L152.0,665.5L149.5,660.5L153.7,652.2L160.3,643.8Z" fill="#F4D592"/><path d="M61.8,607.1L68.5,604.6L73.5,607.9L71.8,612.1L65.1,611.2Z" fill="#B3DCAD"/><path d="M43.4,551.9L47.6,550.3L53.4,556.1L61.8,560.3L60.1,562.8L54.3,564.5L50.1,558.6L45.1,556.1Z" fill="#B3DCAD"/><use href="#akout" fill="none" stroke="#777" stroke-width=".6"/><path d="M269.3,616.9L281.1,624.2L292.9,634.5L303.2,644.9L313.6,653.7L323.9,662.6" fill="none" stroke="#4a4a4a" stroke-width=".9" stroke-opacity=".85"/><path d="M281.1,619.8L294.4,628.6L304.7,639.0L316.5,649.3L325.4,658.1" fill="none" stroke="#4a4a4a" stroke-width=".9" stroke-opacity=".85"/><path d="M295.9,622.8L307.7,631.6L318.0,640.4L328.3,649.3L335.7,656.7" fill="none" stroke="#4a4a4a" stroke-width=".9" stroke-opacity=".85"/><path d="M310.6,627.2L322.4,636.0L332.7,644.9L340.1,652.2" fill="none" stroke="#4a4a4a" stroke-width=".9" stroke-opacity=".85"/><path d="M285.6,608.0L295.9,615.4L307.7,624.2L319.5,634.5" fill="none" stroke="#4a4a4a" stroke-width=".9" stroke-opacity=".85"/><path d="M290.0,628.6L295.9,624.2" fill="none" stroke="#4a4a4a" stroke-width=".9" stroke-opacity=".85"/><path d="M303.2,641.9L310.6,634.5" fill="none" stroke="#4a4a4a" stroke-width=".9" stroke-opacity=".85"/><path d="M316.5,650.8L323.9,641.9" fill="none" stroke="#4a4a4a" stroke-width=".9" stroke-opacity=".85"/><path d="M326.8,659.6L334.2,650.8" fill="none" stroke="#4a4a4a" stroke-width=".9" stroke-opacity=".85"/><path d="M263.4,612.4L272.3,613.9L276.7,618.3" fill="none" stroke="#4a4a4a" stroke-width=".9" stroke-opacity=".85"/><path d="M298.8,633.1L303.2,627.2" fill="none" stroke="#4a4a4a" stroke-width=".9" stroke-opacity=".85"/><path d="M310.6,647.8L316.5,640.4" fill="none" stroke="#4a4a4a" stroke-width=".9" stroke-opacity=".85"/><path d="M322.4,656.7L329.8,649.3" fill="none" stroke="#4a4a4a" stroke-width=".9" stroke-opacity=".85"/><path d="M332.7,662.6L338.6,656.7" fill="none" stroke="#4a4a4a" stroke-width=".9" stroke-opacity=".85"/><path d="M290.0,618.3L287.0,624.2" fill="none" stroke="#4a4a4a" stroke-width=".9" stroke-opacity=".85"/><path d="M301.8,624.2L298.8,630.1" fill="none" stroke="#4a4a4a" stroke-width=".9" stroke-opacity=".85"/><path d="M315.0,633.1L312.1,639.0" fill="none" stroke="#4a4a4a" stroke-width=".9" stroke-opacity=".85"/><path d="M326.8,641.9L323.9,647.8" fill="none" stroke="#4a4a4a" stroke-width=".9" stroke-opacity=".85"/><path d="M301.8,636.8L310.6,646.3L320.2,656.7" fill="none" stroke="#fff" stroke-width="1.1"/><path d="M290.0,624.2L298.8,631.6" fill="none" stroke="#fff" stroke-width="1.1"/><path d="M319.5,639.0L326.8,646.3L332.7,653.7" fill="none" stroke="#fff" stroke-width="1.1"/><path d="M294.4,616.9L304.7,625.7L313.6,631.6" fill="none" stroke="#fff" stroke-width="1.1"/><path d="M310.6,641.9L318.0,649.3" fill="none" stroke="#fff" stroke-width="1.1"/><path d="M366.5,639.7L368.5,635.8L371.7,632.5L374.3,629.9L375.6,631.9L375.0,635.1L371.7,637.7L369.1,640.3Z" fill="#96CE84" stroke="#666" stroke-width=".5" stroke-linejoin="round"/><path d="M386.3,628.6L389.3,623.4L395.2,620.1L404.3,620.1L406.9,623.4L407.6,628.6L405.0,633.8L401.1,636.2L393.9,634.5L388.7,631.9Z" fill="#96CE84" stroke="#666" stroke-width=".5" stroke-linejoin="round"/><path d="M452.6,648.2L457.8,646.2L463.6,641.0L466.9,644.3L470.8,649.5L474.7,653.4L478.0,659.2L473.4,660.5L468.2,658.6L463.0,659.2L459.1,660.5L455.8,654.7Z" fill="#96CE84" stroke="#666" stroke-width=".5" stroke-linejoin="round"/><path d="M494.0,667.7L495.6,663.2L503.4,663.8L512.5,664.5L518.8,664.1L517.7,667.1L511.9,669.0L502.1,667.7Z" fill="#96CE84" stroke="#666" stroke-width=".5" stroke-linejoin="round"/><path d="M504.7,676.8L508.6,675.3L513.8,676.8L515.1,680.8L511.9,683.6L508.0,682.1Z" fill="#96CE84" stroke="#666" stroke-width=".5" stroke-linejoin="round"/><path d="M520.3,674.2L523.0,670.6L526.9,671.6L530.8,674.9L537.3,673.6L545.1,676.2L550.3,680.8L549.7,684.7L543.8,687.9L537.3,690.1L532.7,688.6L530.8,683.4L525.6,679.5L521.6,677.5Z" fill="#96CE84" stroke="#666" stroke-width=".5" stroke-linejoin="round"/><path d="M521.0,693.1L524.9,689.6L527.5,690.5L526.2,693.1Z" fill="#96CE84" stroke="#666" stroke-width=".5" stroke-linejoin="round"/><path d="M554.9,708.1L557.5,703.2L566.0,707.5L573.8,710.7L582.9,714.7L590.7,721.2L594.7,726.4L597.3,731.6L603.8,735.5L598.6,740.7L589.4,747.2L580.3,753.8L573.8,760.3L567.3,764.2L559.5,759.0L556.2,752.5L557.5,743.3L553.6,735.5L549.7,727.7L552.9,722.5L556.2,717.3Z" fill="#96CE84" stroke="#666" stroke-width=".5" stroke-linejoin="round"/><ellipse cx="33.0" cy="708.3" rx="2.0" ry="1.1" transform="rotate(20 33.0 708.3)" fill="#888" stroke="#555" stroke-width=".3"/><ellipse cx="37.7" cy="711.5" rx="2.6" ry="1.6" transform="rotate(20 37.7 711.5)" fill="#888" stroke="#555" stroke-width=".3"/><ellipse cx="44.0" cy="724.1" rx="3.2" ry="1.1" transform="rotate(20 44.0 724.1)" fill="#888" stroke="#555" stroke-width=".3"/><ellipse cx="50.3" cy="725.6" rx="2.0" ry="1.6" transform="rotate(20 50.3 725.6)" fill="#888" stroke="#555" stroke-width=".3"/><ellipse cx="75.5" cy="731.9" rx="2.6" ry="1.1" transform="rotate(20 75.5 731.9)" fill="#888" stroke="#555" stroke-width=".3"/><ellipse cx="94.3" cy="744.5" rx="3.2" ry="1.6" transform="rotate(20 94.3 744.5)" fill="#888" stroke="#555" stroke-width=".3"/><ellipse cx="103.8" cy="747.6" rx="2.0" ry="1.1" transform="rotate(20 103.8 747.6)" fill="#888" stroke="#555" stroke-width=".3"/><ellipse cx="110.1" cy="755.5" rx="2.6" ry="1.6" transform="rotate(20 110.1 755.5)" fill="#888" stroke="#555" stroke-width=".3"/><ellipse cx="119.5" cy="763.4" rx="3.2" ry="1.1" transform="rotate(20 119.5 763.4)" fill="#888" stroke="#555" stroke-width=".3"/><ellipse cx="125.8" cy="750.8" rx="2.0" ry="1.6" transform="rotate(20 125.8 750.8)" fill="#96CE84" stroke="#555" stroke-width=".3"/><ellipse cx="141.5" cy="769.0" rx="2.6" ry="1.1" transform="rotate(20 141.5 769.0)" fill="#96CE84" stroke="#555" stroke-width=".3"/><ellipse cx="147.8" cy="766.5" rx="3.2" ry="1.6" transform="rotate(20 147.8 766.5)" fill="#96CE84" stroke="#555" stroke-width=".3"/><ellipse cx="176.1" cy="764.0" rx="2.0" ry="1.1" transform="rotate(20 176.1 764.0)" fill="#96CE84" stroke="#555" stroke-width=".3"/><ellipse cx="185.6" cy="760.2" rx="2.6" ry="1.6" transform="rotate(20 185.6 760.2)" fill="#96CE84" stroke="#555" stroke-width=".3"/><ellipse cx="207.6" cy="757.1" rx="3.2" ry="1.1" transform="rotate(20 207.6 757.1)" fill="#96CE84" stroke="#555" stroke-width=".3"/><ellipse cx="217.0" cy="758.6" rx="2.0" ry="1.6" transform="rotate(20 217.0 758.6)" fill="#96CE84" stroke="#555" stroke-width=".3"/><ellipse cx="235.9" cy="755.5" rx="2.6" ry="1.1" transform="rotate(20 235.9 755.5)" fill="#96CE84" stroke="#555" stroke-width=".3"/><ellipse cx="261.0" cy="749.2" rx="3.2" ry="1.6" transform="rotate(20 261.0 749.2)" fill="#96CE84" stroke="#555" stroke-width=".3"/><ellipse cx="273.6" cy="744.5" rx="2.0" ry="1.1" transform="rotate(-30 273.6 744.5)" fill="#96CE84" stroke="#555" stroke-width=".3"/><ellipse cx="284.6" cy="739.8" rx="2.6" ry="1.6" transform="rotate(-30 284.6 739.8)" fill="#96CE84" stroke="#555" stroke-width=".3"/><path d="M283.0,745.6L291.2,735.7L301.0,733.3L310.9,727.5L314.1,719.3L322.4,717.7L325.6,722.6L317.4,729.2L307.6,734.1L297.7,739.0L287.9,745.6Z" fill="#96CE84" stroke="#555" stroke-width=".4"/><path d="M325.6,721.0L332.2,714.4L342.0,712.0" fill="none" stroke="#666" stroke-width=".9"/><text x="783.7" y="624.0" text-anchor="middle" style="font-size:12.8px;font-weight:bold" fill="#111">Probability</text><text x="783.7" y="639.0" text-anchor="middle" style="font-size:12.9px;font-weight:bold" fill="#111">(Percent Chance)</text><text x="722.8" y="653.2" text-anchor="middle" style="font-size:9.6px;font-weight:bold" fill="#111">Above Normal</text><text x="845.6" y="653.2" text-anchor="middle" style="font-size:9.6px;font-weight:bold" fill="#111">Below Normal</text><rect x="689.3" y="665.2" width="23.1" height="10" fill="#B3DCAD" stroke="#000" stroke-opacity=".22" stroke-width=".6"/><rect x="857.3" y="665.2" width="23.1" height="10" fill="#F4D592" stroke="#000" stroke-opacity=".22" stroke-width=".6"/><text x="717.4" y="673.5" style="font-size:9.2px" fill="#444">33-40%</text><text x="852" y="673.5" text-anchor="end" style="font-size:9.2px" fill="#444">33-40%</text><rect x="689.3" y="681.0" width="23.1" height="10" fill="#96CE84" stroke="#000" stroke-opacity=".22" stroke-width=".6"/><rect x="857.3" y="681.0" width="23.1" height="10" fill="#DFAA4E" stroke="#000" stroke-opacity=".22" stroke-width=".6"/><text x="717.4" y="689.3" style="font-size:9.2px" fill="#444">40-50%</text><text x="852" y="689.3" text-anchor="end" style="font-size:9.2px" fill="#444">40-50%</text><rect x="689.3" y="696.8" width="23.1" height="10" fill="#4CB233" stroke="#000" stroke-opacity=".22" stroke-width=".6"/><rect x="857.3" y="696.8" width="23.1" height="10" fill="#C26D31" stroke="#000" stroke-opacity=".22" stroke-width=".6"/><text x="717.4" y="705.1" style="font-size:9.2px" fill="#444">50-60%</text><text x="852" y="705.1" text-anchor="end" style="font-size:9.2px" fill="#444">50-60%</text><rect x="689.3" y="712.6" width="23.1" height="10" fill="#0F9F2B" stroke="#000" stroke-opacity=".22" stroke-width=".6"/><rect x="857.3" y="712.6" width="23.1" height="10" fill="#9F5230" stroke="#000" stroke-opacity=".22" stroke-width=".6"/><text x="717.4" y="720.9" style="font-size:9.2px" fill="#444">60-70%</text><text x="852" y="720.9" text-anchor="end" style="font-size:9.2px" fill="#444">60-70%</text><rect x="689.3" y="728.4" width="23.1" height="10" fill="#0B7E22" stroke="#000" stroke-opacity=".22" stroke-width=".6"/><rect x="857.3" y="728.4" width="23.1" height="10" fill="#964A3D" stroke="#000" stroke-opacity=".22" stroke-width=".6"/><text x="717.4" y="736.7" style="font-size:9.2px" fill="#444">70-80%</text><text x="852" y="736.7" text-anchor="end" style="font-size:9.2px" fill="#444">70-80%</text><rect x="689.3" y="744.2" width="23.1" height="10" fill="#2D6B10" stroke="#000" stroke-opacity=".22" stroke-width=".6"/><rect x="857.3" y="744.2" width="23.1" height="10" fill="#7D3D0C" stroke="#000" stroke-opacity=".22" stroke-width=".6"/><text x="717.4" y="752.5" style="font-size:9.2px" fill="#444">80-90%</text><text x="852" y="752.5" text-anchor="end" style="font-size:9.2px" fill="#444">80-90%</text><rect x="689.3" y="760.0" width="23.1" height="10" fill="#29580E" stroke="#000" stroke-opacity=".22" stroke-width=".6"/><rect x="857.3" y="760.0" width="23.1" height="10" fill="#5B2F2A" stroke="#000" stroke-opacity=".22" stroke-width=".6"/><text x="717.4" y="768.3" style="font-size:9.2px" fill="#444">90-100%</text><text x="852" y="768.3" text-anchor="end" style="font-size:9.2px" fill="#444">90-100%</text><text x="783.7" y="698.3" text-anchor="middle" style="font-size:9.9px;font-weight:bold" fill="#111">Near</text><text x="783.7" y="709.3" text-anchor="middle" style="font-size:9.9px;font-weight:bold" fill="#111">Normal</text><rect x="772.4" y="720.3" width="23.1" height="10" fill="#A0A0A0" stroke="#000" stroke-opacity=".22" stroke-width=".6"/><text x="647.6" y="675" text-anchor="middle" style="font-size:11.5px" fill="#3c3c3c">Leaning</text><text x="647.6" y="688.4" text-anchor="middle" style="font-size:11.5px" fill="#3c3c3c">Above</text><text x="647.6" y="729.6" text-anchor="middle" style="font-size:11.5px" fill="#3c3c3c">Likely</text><text x="647.6" y="742.8" text-anchor="middle" style="font-size:11.5px" fill="#3c3c3c">Above</text><text x="923.3" y="675" text-anchor="middle" style="font-size:11.5px" fill="#3c3c3c">Leaning</text><text x="923.3" y="688.4" text-anchor="middle" style="font-size:11.5px" fill="#3c3c3c">Below</text><text x="923.3" y="729.6" text-anchor="middle" style="font-size:11.5px" fill="#3c3c3c">Likely</text><text x="923.3" y="742.8" text-anchor="middle" style="font-size:11.5px" fill="#3c3c3c">Below</text><path d="M681.5,664.5 C675.75,664.5 674.6,674.2 670,678.2 C674.6,682.2 675.75,692 681.5,692" fill="none" stroke="#3a3a3a" stroke-width=".9"/><path d="M685,697.5 C677.5,697.5 676.0,730 670,734 C676.0,738 677.5,770.5 685,770.5" fill="none" stroke="#3a3a3a" stroke-width=".9"/><path d="M884,664.5 C890.0,664.5 891.2,674.2 896,678.2 C891.2,682.2 890.0,692 884,692" fill="none" stroke="#3a3a3a" stroke-width=".9"/><path d="M884.5,697 C890.75,697 892.0,730 897,734 C892.0,738 890.75,770.5 884.5,770.5" fill="none" stroke="#3a3a3a" stroke-width=".9"/><path d="M519.2,663.8L523.1,641.2" stroke="#222" stroke-width=".8"/><path d="M454.4,683.5L458.3,654.0" stroke="#222" stroke-width=".8"/><path d="M536.9,757.2L556.5,757.2" stroke="#222" stroke-width=".8"/><text x="379.7" y="164.6" text-anchor="middle" style="font-size:21.027807801906256px;font-weight:bold" fill="#111" stroke="#fff" stroke-width="3.0" stroke-linejoin="round" paint-order="stroke">Above</text><text x="838.6" y="215.7" text-anchor="middle" style="font-size:21.027807801906256px;font-weight:bold" fill="#111" stroke="#fff" stroke-width="3.0" stroke-linejoin="round" paint-order="stroke">Below</text><text x="709.8" y="295.3" text-anchor="middle" style="font-size:21.027807801906256px;font-weight:bold" fill="#111" stroke="#fff" stroke-width="3.0" stroke-linejoin="round" paint-order="stroke">Near</text><text x="709.8" y="317.9" text-anchor="middle" style="font-size:21.027807801906256px;font-weight:bold" fill="#111" stroke="#fff" stroke-width="3.0" stroke-linejoin="round" paint-order="stroke">Normal</text><text x="196.9" y="340.5" text-anchor="middle" style="font-size:21.027807801906256px;font-weight:bold" fill="#111" stroke="#fff" stroke-width="3.0" stroke-linejoin="round" paint-order="stroke">Near</text><text x="196.9" y="364.1" text-anchor="middle" style="font-size:21.027807801906256px;font-weight:bold" fill="#111" stroke="#fff" stroke-width="3.0" stroke-linejoin="round" paint-order="stroke">Normal</text><text x="517.2" y="545.9" text-anchor="middle" style="font-size:21.027807801906256px;font-weight:bold" fill="#111" stroke="#fff" stroke-width="3.0" stroke-linejoin="round" paint-order="stroke">Above</text><text x="128.1" y="490.9" text-anchor="middle" style="font-size:16.606072516458678px;font-weight:bold" fill="#111" stroke="#fff" stroke-width="2.4" stroke-linejoin="round" paint-order="stroke">Above</text><text x="164.5" y="562.6" text-anchor="middle" style="font-size:15.721725459369164px;font-weight:bold" fill="#111" stroke="#fff" stroke-width="2.4" stroke-linejoin="round" paint-order="stroke">Near</text><text x="164.5" y="581.3" text-anchor="middle" style="font-size:15.721725459369164px;font-weight:bold" fill="#111" stroke="#fff" stroke-width="2.4" stroke-linejoin="round" paint-order="stroke">Normal</text><text x="214.6" y="602.9" text-anchor="middle" style="font-size:16.606072516458678px;font-weight:bold" fill="#111" stroke="#fff" stroke-width="2.4" stroke-linejoin="round" paint-order="stroke">Below</text><text x="544.8" y="642.2" text-anchor="middle" style="font-size:11.88955487864793px;font-weight:bold" fill="#111">Above</text><text x="429.8" y="689.4" text-anchor="middle" style="font-size:11.88955487864793px;font-weight:bold" fill="#111">Above</text><text x="513.3" y="761.1" text-anchor="middle" style="font-size:11.88955487864793px;font-weight:bold" fill="#111">Above</text><text x="191.0" y="712.0" text-anchor="middle" style="font-size:13.265205856342734px;font-weight:bold" fill="#111">Aleutian Islands</text></g><text x="482.8" y="814" text-anchor="middle" textLength="343.6" lengthAdjust="spacingAndGlyphs" style="font-family:'Liberation Serif','Times New Roman',serif;font-size:32.3px;font-weight:bold" fill="#000">Precipitation Probability</text><text x="1491.2" y="824" text-anchor="middle" textLength="351" lengthAdjust="spacingAndGlyphs" style="font-family:'Liberation Serif','Times New Roman',serif;font-size:33px;font-weight:bold" fill="#000">Precipitation Probability</text></svg></body></html>
